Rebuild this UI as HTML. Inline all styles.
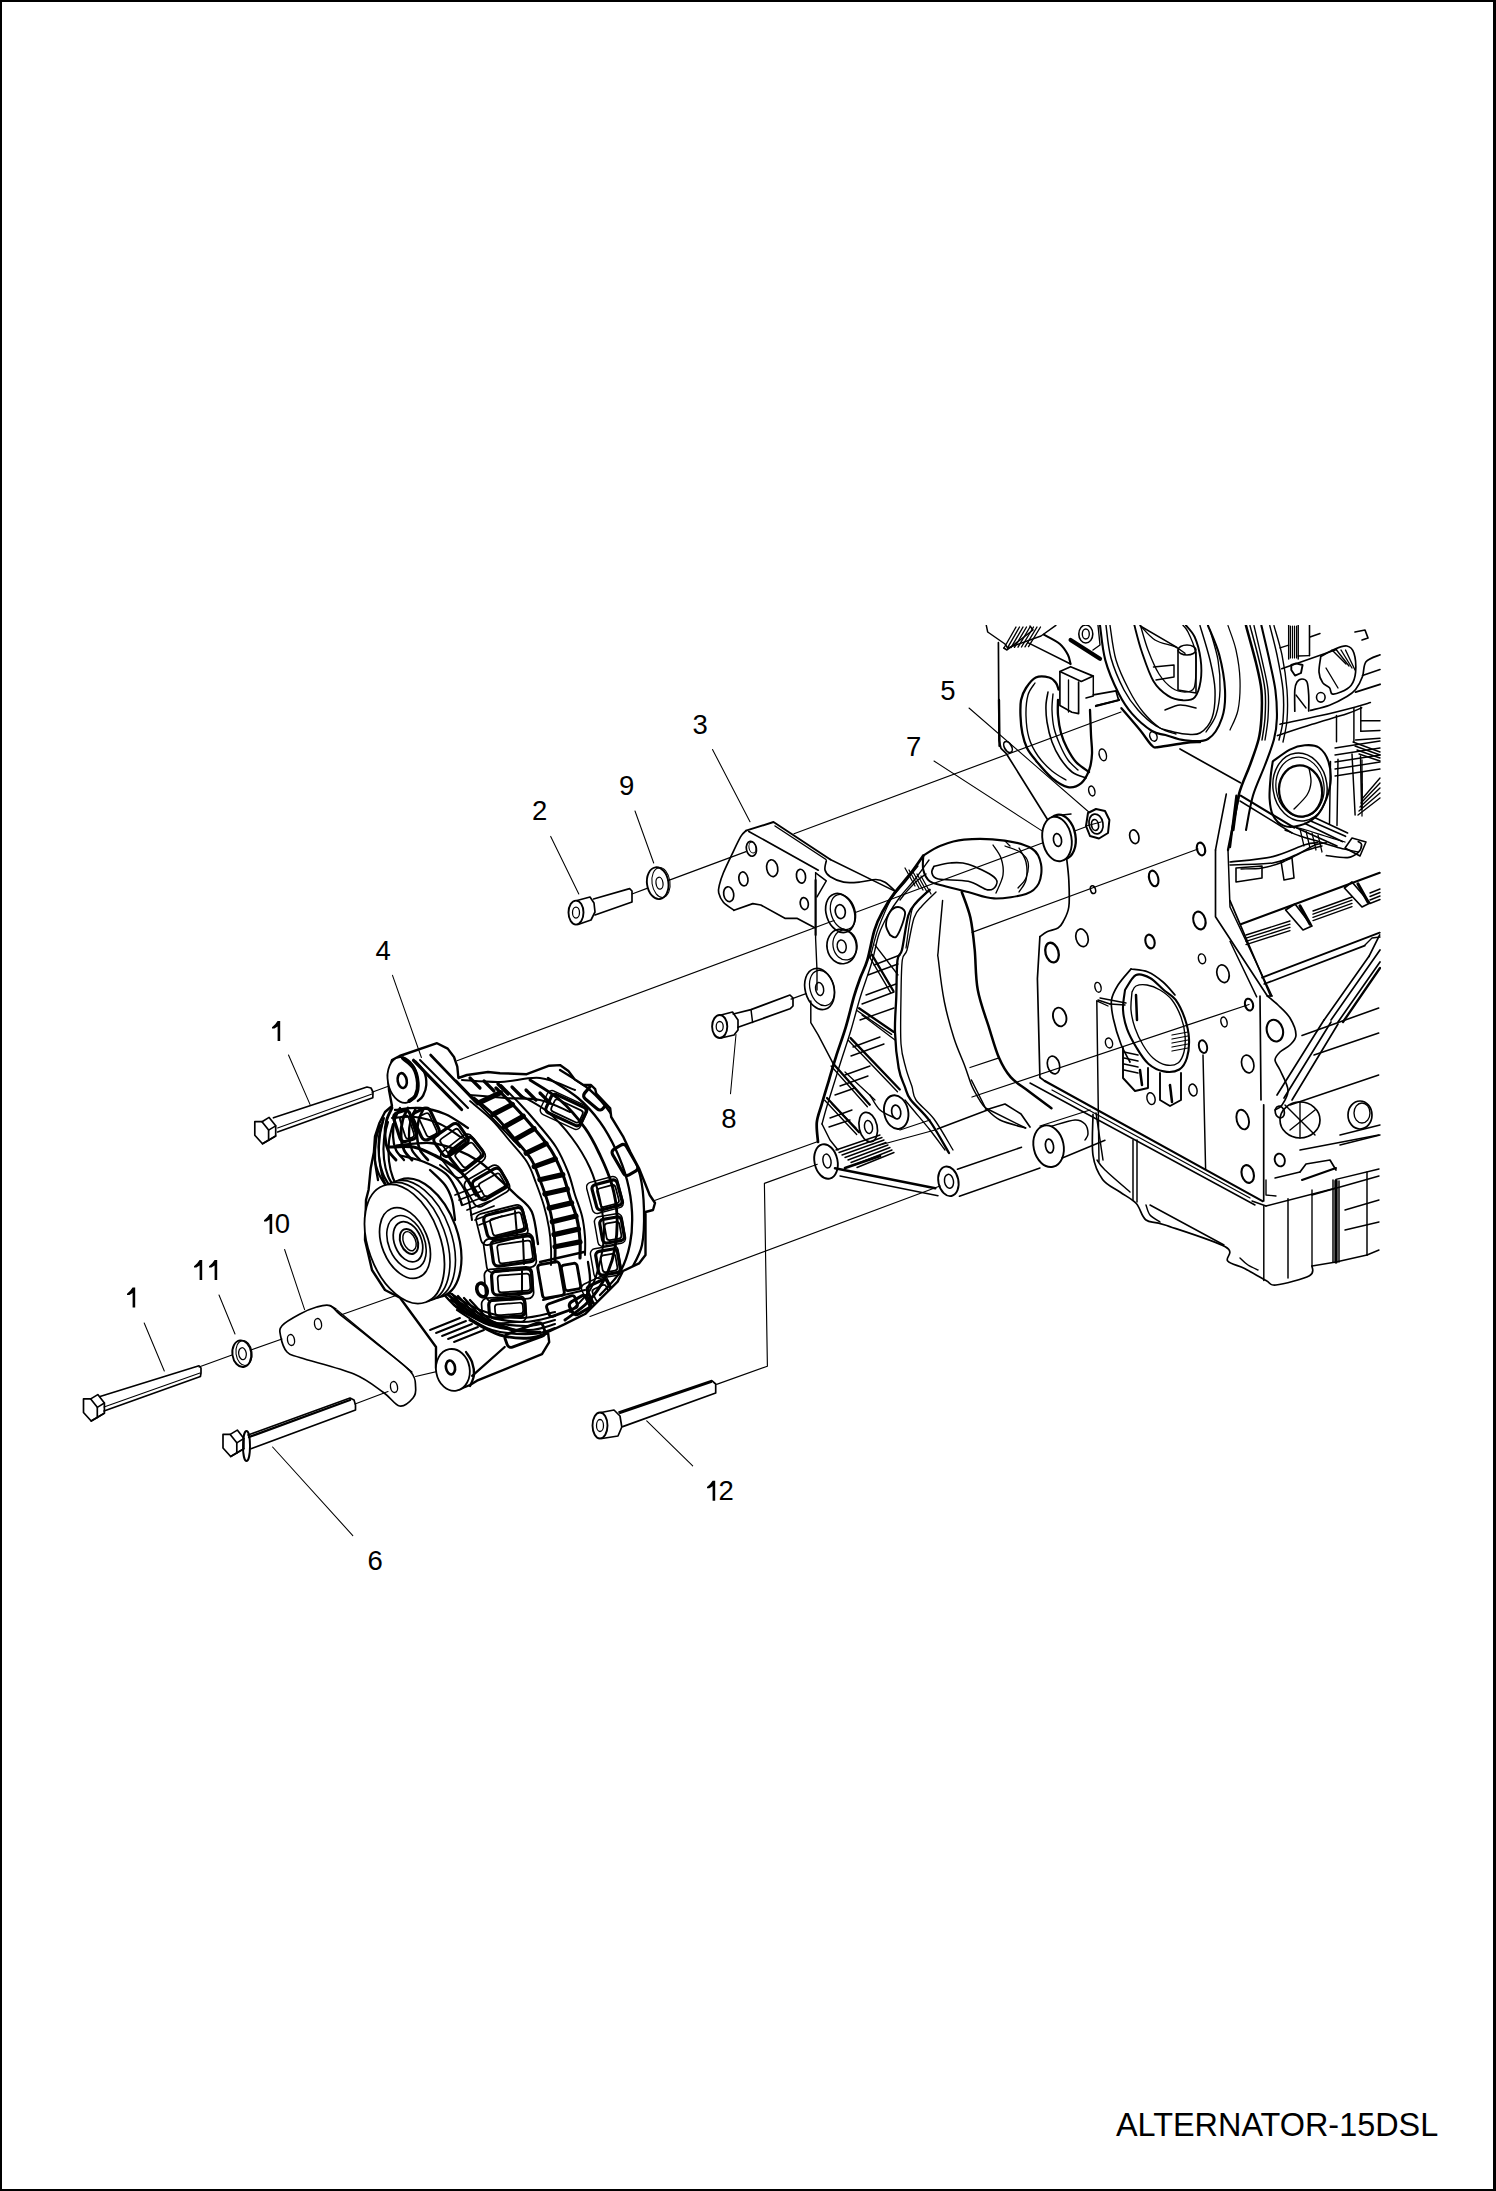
<!DOCTYPE html>
<html><head><meta charset="utf-8"><style>
html,body{margin:0;padding:0;background:#fff;}
body{width:1496px;height:2191px;position:relative;overflow:hidden;}
.b{position:absolute;background:#000;}
svg{position:absolute;left:0;top:0;}
text{font-family:"Liberation Sans",sans-serif;fill:#000;}
</style></head><body>
<div class="b" style="left:0;top:0;width:1496px;height:2px"></div>
<div class="b" style="left:0;top:0;width:2px;height:2191px"></div>
<div class="b" style="left:1493px;top:0;width:3px;height:2191px"></div>
<div class="b" style="left:0;top:2189px;width:1496px;height:2px"></div>
<svg width="1496" height="2191" viewBox="0 0 1496 2191" fill="none" stroke="#000" stroke-linecap="round" stroke-linejoin="round">
<text x="1116" y="2136" font-size="32.4" stroke="none">ALTERNATOR-15DSL</text>
<polygon stroke="none" fill="#000" points="277.6,1021.0 280.2,1021.0 280.2,1041.0 277.6,1041.0 277.6,1026.6 274.4,1028.6 272.0,1028.6 272.0,1027.3 275.2,1024.2"/>
<polygon stroke="none" fill="#000" points="132.6,1287.5 135.2,1287.5 135.2,1307.5 132.6,1307.5 132.6,1293.1 129.4,1295.1 127.0,1295.1 127.0,1293.8 130.2,1290.7"/>
<polygon stroke="none" fill="#000" points="269.6,1214.0 272.2,1214.0 272.2,1234.0 269.6,1234.0 269.6,1219.6 266.4,1221.6 264.0,1221.6 264.0,1220.3 267.2,1217.2"/>
<polygon stroke="none" fill="#000" points="199.6,1260.0 202.2,1260.0 202.2,1280.0 199.6,1280.0 199.6,1265.6 196.4,1267.6 194.0,1267.6 194.0,1266.3 197.2,1263.2"/>
<polygon stroke="none" fill="#000" points="214.6,1260.0 217.2,1260.0 217.2,1280.0 214.6,1280.0 214.6,1265.6 211.4,1267.6 209.0,1267.6 209.0,1266.3 212.2,1263.2"/>
<polygon stroke="none" fill="#000" points="712.6,1480.7 715.2,1480.7 715.2,1500.7 712.6,1500.7 712.6,1486.3 709.4,1488.3 707.0,1488.3 707.0,1487.0 710.2,1483.9"/>
<text x="274.8" y="1233.4" font-size="27.5" stroke="none">0</text>
<text x="718.6" y="1500.4" font-size="27.5" stroke="none">2</text>
<text x="532" y="820" font-size="27.5" stroke="none">2</text>
<text x="692.5" y="733.5" font-size="27.5" stroke="none">3</text>
<text x="375.6" y="959.7" font-size="27.5" stroke="none">4</text>
<text x="940.2" y="699.7" font-size="27.5" stroke="none">5</text>
<text x="367.5" y="1570" font-size="27.5" stroke="none">6</text>
<text x="906" y="756" font-size="27.5" stroke="none">7</text>
<text x="721.3" y="1128.3" font-size="27.5" stroke="none">8</text>
<text x="619" y="795" font-size="27.5" stroke="none">9</text>
<line x1="288.5" y1="1055.0" x2="310.0" y2="1104.4" stroke-width="1.05"/>
<line x1="144.2" y1="1323.0" x2="164.3" y2="1371.0" stroke-width="1.05"/>
<line x1="550.7" y1="836.4" x2="578.8" y2="894.0" stroke-width="1.05"/>
<line x1="712.5" y1="749.5" x2="750.0" y2="821.7" stroke-width="1.05"/>
<line x1="392.5" y1="975.3" x2="421.4" y2="1057.5" stroke-width="1.05"/>
<line x1="969.0" y1="708.0" x2="1088.8" y2="812.0" stroke-width="1.05"/>
<line x1="272.6" y1="1447.0" x2="352.8" y2="1535.6" stroke-width="1.05"/>
<line x1="934.0" y1="761.0" x2="1044.7" y2="832.6" stroke-width="1.05"/>
<line x1="736.0" y1="1034.5" x2="730.5" y2="1093.8" stroke-width="1.05"/>
<line x1="635.0" y1="811.0" x2="653.7" y2="863.0" stroke-width="1.05"/>
<line x1="284.6" y1="1249.5" x2="304.6" y2="1309.6" stroke-width="1.05"/>
<line x1="219.0" y1="1295.0" x2="235.0" y2="1334.0" stroke-width="1.05"/>
<line x1="646.7" y1="1420.8" x2="692.7" y2="1465.9" stroke-width="1.05"/>
<line x1="372.0" y1="1092.3" x2="389.0" y2="1086.0" stroke-width="1.16"/>
<line x1="457.0" y1="1060.7" x2="834.0" y2="920.5" stroke-width="1.16"/>
<line x1="856.0" y1="912.3" x2="1043.0" y2="842.8" stroke-width="1.16"/>
<line x1="1066.0" y1="834.3" x2="1086.0" y2="826.8" stroke-width="1.16"/>
<line x1="632.0" y1="894.0" x2="647.0" y2="888.4" stroke-width="1.16"/>
<line x1="668.0" y1="880.6" x2="746.0" y2="851.6" stroke-width="1.16"/>
<line x1="794.0" y1="833.7" x2="1121.0" y2="712.0" stroke-width="1.16"/>
<line x1="791.0" y1="999.1" x2="806.0" y2="993.6" stroke-width="1.16"/>
<line x1="972.0" y1="932.4" x2="1198.0" y2="849.0" stroke-width="1.16"/>
<line x1="653.9" y1="1200.8" x2="817.3" y2="1141.7" stroke-width="1.16"/>
<polyline points="716.6,1384.4 767.4,1366.2 764.4,1183.4 817.3,1164.3" stroke-width="1.16"/>
<line x1="590.0" y1="1316.5" x2="940.0" y2="1186.0" stroke-width="1.16"/>
<line x1="199.0" y1="1367.0" x2="232.0" y2="1355.0" stroke-width="1.16"/>
<line x1="251.0" y1="1350.0" x2="282.0" y2="1339.0" stroke-width="1.16"/>
<line x1="340.7" y1="1315.0" x2="420.0" y2="1287.0" stroke-width="1.16"/>
<line x1="355.0" y1="1404.0" x2="388.0" y2="1391.5" stroke-width="1.16"/>
<line x1="415.6" y1="1376.5" x2="450.4" y2="1368.4" stroke-width="1.16"/>
<polygon points="254.8,1121.7 262.0,1121.7 268.6,1130.1 268.6,1140.3 262.5,1143.8 254.8,1135.3" fill="#fff" stroke-width="1.68"/>
<polyline points="262.0,1121.7 269.1,1117.4 275.7,1125.8 275.7,1136.0 269.6,1139.5 262.5,1143.8" stroke-width="1.68"/>
<line x1="268.6" y1="1130.1" x2="275.7" y2="1125.8" stroke-width="1.51"/>
<line x1="268.6" y1="1140.3" x2="275.7" y2="1136.0" stroke-width="1.51"/>
<polyline points="273.4,1117.8 367.0,1087.0 371.0,1088.0 373.0,1092.0 372.8,1097.8 277.6,1132.0" stroke-width="1.68"/>
<line x1="277.6" y1="1128.0" x2="372.0" y2="1094.0" stroke-width="1.05"/>
<polygon points="83.5,1398.9 90.7,1398.9 97.3,1407.3 97.3,1417.5 91.2,1421.0 83.5,1412.5" fill="#fff" stroke-width="1.68"/>
<polyline points="90.7,1398.9 97.8,1394.6 104.4,1403.0 104.4,1413.2 98.3,1416.7 91.2,1421.0" stroke-width="1.68"/>
<line x1="97.3" y1="1407.3" x2="104.4" y2="1403.0" stroke-width="1.51"/>
<line x1="97.3" y1="1417.5" x2="104.4" y2="1413.2" stroke-width="1.51"/>
<polyline points="100.0,1396.5 199.0,1365.8 201.0,1368.0 201.0,1373.0 200.4,1376.5 104.0,1411.0" stroke-width="1.68"/>
<line x1="104.0" y1="1407.0" x2="200.0" y2="1373.0" stroke-width="1.05"/>
<polygon points="223.0,1434.4 230.2,1434.4 236.8,1442.8 236.8,1453.0 230.7,1456.5 223.0,1448.0" fill="#fff" stroke-width="1.68"/>
<polyline points="230.2,1434.4 237.3,1430.1 243.9,1438.5 243.9,1448.7 237.8,1452.2 230.7,1456.5" stroke-width="1.68"/>
<line x1="236.8" y1="1442.8" x2="243.9" y2="1438.5" stroke-width="1.51"/>
<line x1="236.8" y1="1453.0" x2="243.9" y2="1448.7" stroke-width="1.51"/>
<ellipse cx="246.5" cy="1446.0" rx="3.5" ry="15.0" stroke-width="1.89"/>
<polyline points="248.0,1435.0 350.0,1398.0 354.0,1400.0 355.5,1405.0 355.5,1410.0 251.0,1448.7" stroke-width="1.68"/>
<line x1="249.0" y1="1437.0" x2="350.0" y2="1400.0" stroke-width="2.31"/>
<ellipse cx="576.0" cy="912.6" rx="7.5" ry="12.0" stroke-width="1.89"/>
<ellipse cx="576.0" cy="912.6" rx="3.5" ry="5.5" stroke-width="1.26"/>
<polyline points="577.0,900.5 590.0,897.0 594.0,903.0 595.0,912.0 591.0,920.0 578.0,924.5" stroke-width="1.68"/>
<polyline points="593.5,899.0 629.6,888.6 632.0,891.0 632.0,902.0 595.0,915.0" stroke-width="1.68"/>
<ellipse cx="719.7" cy="1026.5" rx="7.6" ry="11.5" stroke-width="1.89"/>
<ellipse cx="719.7" cy="1026.5" rx="3.5" ry="5.0" stroke-width="1.26"/>
<polyline points="721.0,1015.0 732.5,1012.0 738.0,1020.0 738.0,1030.0 734.0,1035.0 721.0,1038.0" stroke-width="1.68"/>
<polyline points="733.3,1014.0 751.0,1009.6 790.0,995.0 793.0,998.0 793.0,1006.0 790.0,1008.8 738.0,1027.3" stroke-width="1.68"/>
<line x1="751.0" y1="1009.6" x2="752.6" y2="1022.5" stroke-width="1.47"/>
<ellipse cx="600.0" cy="1425.5" rx="7.5" ry="13.0" stroke-width="1.89"/>
<ellipse cx="600.0" cy="1425.5" rx="3.5" ry="6.0" stroke-width="1.26"/>
<polyline points="601.0,1412.5 614.0,1410.0 620.0,1416.0 621.8,1427.0 618.0,1436.0 602.0,1438.5" stroke-width="1.68"/>
<polyline points="618.9,1412.0 711.8,1380.6 715.7,1384.0 715.7,1393.0 622.7,1426.6" stroke-width="1.68"/>
<line x1="620.0" y1="1413.0" x2="711.0" y2="1382.0" stroke-width="2.31"/>
<ellipse cx="657.7" cy="883.2" rx="10.7" ry="16.0" stroke-width="1.89" transform="rotate(-8 657.7 883.2)"/>
<ellipse cx="659.5" cy="883.2" rx="3.5" ry="6.0" stroke-width="1.26" transform="rotate(-8 659.5 883.2)"/>
<ellipse cx="661.0" cy="882.5" rx="9.0" ry="15.0" stroke-width="1.05" transform="rotate(-8 661.0 882.5)"/>
<ellipse cx="241.8" cy="1353.7" rx="9.4" ry="13.4" stroke-width="1.89" transform="rotate(-8 241.8 1353.7)"/>
<ellipse cx="242.5" cy="1353.7" rx="3.8" ry="6.0" stroke-width="1.26" transform="rotate(-8 242.5 1353.7)"/>
<ellipse cx="244.0" cy="1353.0" rx="8.0" ry="12.5" stroke-width="1.05" transform="rotate(-8 244.0 1353.0)"/>
<path d="M282.0,1325.7 C285.2,1322.0 294.2,1317.1 300.0,1314.0 C305.8,1310.9 311.7,1308.4 316.7,1307.0 C321.7,1305.6 326.0,1304.3 330.0,1305.6 C334.0,1306.9 333.0,1308.8 340.7,1315.0 C348.4,1321.2 364.4,1333.7 376.0,1343.0 C387.6,1352.3 403.4,1363.7 410.0,1371.0 C416.6,1378.3 415.1,1382.5 415.6,1387.0 C416.1,1391.5 415.7,1394.8 413.0,1398.0 C410.3,1401.2 404.5,1406.9 399.6,1406.0 C394.7,1405.1 391.1,1397.8 383.5,1392.5 C375.9,1387.2 367.8,1379.8 354.0,1374.0 C340.2,1368.2 311.8,1361.5 300.6,1357.8 C289.4,1354.1 290.3,1355.6 287.0,1352.0 C283.7,1348.4 281.4,1340.4 280.6,1336.0 C279.8,1331.6 278.8,1329.4 282.0,1325.7Z" stroke-width="1.68"/>
<line x1="330.0" y1="1305.6" x2="336.0" y2="1309.0" stroke-width="1.47"/>
<line x1="337.0" y1="1310.0" x2="412.0" y2="1372.0" stroke-width="1.26"/>
<ellipse cx="318.0" cy="1324.0" rx="3.5" ry="5.5" stroke-width="1.37" transform="rotate(-10 318.0 1324.0)"/>
<ellipse cx="291.0" cy="1340.0" rx="3.5" ry="5.5" stroke-width="1.37" transform="rotate(-10 291.0 1340.0)"/>
<ellipse cx="394.0" cy="1387.0" rx="3.5" ry="5.5" stroke-width="1.37" transform="rotate(-10 394.0 1387.0)"/>
<clipPath id="engclip"><rect x="0" y="625" width="1381" height="1600"/></clipPath>
<clipPath id="altclip"><path d="M388.0,1075.0 L392.0,1060.0 L399.6,1056.0 L437.0,1043.2 L447.7,1048.6 L454.0,1057.0 L457.3,1066.7 L458.4,1078.0 L467.0,1075.0 L488.0,1072.0 L500.0,1073.2 L526.7,1074.2 L549.2,1065.7 L560.0,1065.1 L568.4,1071.0 L574.9,1079.6 L583.4,1085.0 L591.0,1085.0 L595.2,1089.2 L596.3,1093.5 L610.2,1108.4 L611.2,1117.0 L623.0,1136.3 L630.5,1152.3 L639.0,1168.3 L643.3,1179.0 L649.7,1195.0 L655.0,1203.0 L653.0,1210.0 L645.5,1212.0 L645.5,1255.0 L639.0,1263.4 L623.0,1271.0 L617.6,1281.6 L601.6,1297.6 L585.6,1313.7 L564.2,1324.4 L548.0,1332.0 L549.2,1342.2 L542.0,1354.2 L477.0,1380.7 L470.0,1385.0 L460.0,1389.0 L448.0,1388.0 L440.0,1380.0 L436.0,1368.0 L436.0,1347.0 L420.0,1325.0 L400.0,1297.7 L385.0,1290.0 L372.0,1270.0 L365.0,1240.0 L366.0,1200.0 L368.6,1189.7 L370.7,1168.3 L373.9,1152.3 L375.0,1136.3 L379.3,1123.4 L385.0,1112.0 L392.0,1106.0 L389.0,1090.0Z"/></clipPath>
<g clip-path="url(#altclip)">
<path d="M392.0,1108.0 C391.1,1110.0 387.9,1115.3 386.7,1120.0 C385.5,1124.7 384.8,1131.0 385.0,1136.0 C385.2,1141.0 386.2,1146.0 388.0,1150.0 C389.8,1154.0 394.7,1158.3 396.0,1160.0" stroke-width="2.90"/>
<path d="M400.0,1108.0 C399.1,1110.0 395.9,1115.3 394.7,1120.0 C393.5,1124.7 392.8,1131.0 393.0,1136.0 C393.2,1141.0 394.2,1146.0 396.0,1150.0 C397.8,1154.0 402.7,1158.3 404.0,1160.0" stroke-width="2.32"/>
<path d="M408.0,1108.0 C407.1,1110.0 403.9,1115.3 402.7,1120.0 C401.5,1124.7 400.8,1131.0 401.0,1136.0 C401.2,1141.0 402.2,1146.0 404.0,1150.0 C405.8,1154.0 410.7,1158.3 412.0,1160.0" stroke-width="2.90"/>
<path d="M416.0,1108.0 C415.1,1110.0 411.9,1115.3 410.7,1120.0 C409.5,1124.7 408.8,1131.0 409.0,1136.0 C409.2,1141.0 410.2,1146.0 412.0,1150.0 C413.8,1154.0 418.7,1158.3 420.0,1160.0" stroke-width="2.32"/>
<path d="M424.0,1108.0 C423.1,1110.0 419.9,1115.3 418.7,1120.0 C417.5,1124.7 416.8,1131.0 417.0,1136.0 C417.2,1141.0 418.2,1146.0 420.0,1150.0 C421.8,1154.0 426.7,1158.3 428.0,1160.0" stroke-width="2.61"/>
<path d="M380.0,1125.0 C379.3,1127.5 376.8,1134.2 376.0,1140.0 C375.2,1145.8 374.7,1153.3 375.0,1160.0 C375.3,1166.7 377.5,1176.7 378.0,1180.0" stroke-width="2.32"/>
<path d="M384.0,1118.0 C383.3,1120.8 380.8,1128.8 380.0,1135.0 C379.2,1141.2 378.7,1148.3 379.0,1155.0 C379.3,1161.7 380.8,1170.0 382.0,1175.0 C383.2,1180.0 385.3,1183.3 386.0,1185.0" stroke-width="2.03"/>
<path d="M390.0,1147.0 C393.9,1147.0 406.0,1145.6 413.5,1147.0 C421.0,1148.4 427.8,1152.0 434.9,1155.5 C442.0,1159.0 450.9,1164.4 456.3,1168.3 C461.7,1172.2 463.7,1174.5 467.0,1179.0 C470.3,1183.5 474.5,1192.3 476.0,1195.0" stroke-width="3.19"/>
<path d="M400.6,1155.5 C404.5,1156.6 416.7,1159.0 424.2,1162.0 C431.7,1165.0 440.2,1169.1 445.6,1173.7 C451.0,1178.3 453.6,1184.5 456.3,1189.7 C459.0,1194.9 461.1,1202.5 462.0,1205.0" stroke-width="2.32"/>
<path d="M397.0,1145.5 C402.5,1145.1 420.0,1142.3 430.0,1143.0 C440.0,1143.7 448.7,1146.6 457.0,1149.8 C465.3,1153.0 472.9,1157.0 480.0,1162.0 C487.1,1167.0 493.7,1174.2 499.7,1179.7 C505.7,1185.2 510.6,1189.7 516.0,1195.0 C521.4,1200.3 528.1,1203.6 531.8,1211.8 C535.5,1220.0 537.0,1238.6 538.0,1244.0" stroke-width="2.32"/>
<line x1="413.5" y1="1060.3" x2="461.6" y2="1109.5" stroke-width="3.19"/>
<line x1="420.0" y1="1060.0" x2="468.0" y2="1108.0" stroke-width="2.03"/>
<line x1="430.6" y1="1055.0" x2="477.6" y2="1104.2" stroke-width="2.61"/>
<line x1="456.3" y1="1080.6" x2="520.0" y2="1147.0" stroke-width="2.03"/>
<rect x="451.0" y="1142.0" width="30.0" height="24.0" rx="5" stroke-width="3.19" transform="rotate(-38 466.0 1154.0)"/>
<rect x="457.0" y="1146.5" width="22.0" height="17.0" rx="3" stroke-width="1.74" transform="rotate(-38 468.0 1155.0)"/>
<rect x="474.0" y="1173.0" width="32.0" height="22.0" rx="5" stroke-width="3.19" transform="rotate(-30 490.0 1184.0)"/>
<rect x="480.0" y="1177.5" width="24.0" height="15.0" rx="3" stroke-width="1.74" transform="rotate(-30 492.0 1185.0)"/>
<rect x="485.0" y="1211.0" width="40.0" height="24.0" rx="5" stroke-width="3.19" transform="rotate(-14 505.0 1223.0)"/>
<rect x="491.0" y="1215.5" width="32.0" height="17.0" rx="3" stroke-width="1.74" transform="rotate(-14 507.0 1224.0)"/>
<rect x="492.0" y="1238.0" width="42.0" height="26.0" rx="5" stroke-width="3.19" transform="rotate(-8 513.0 1251.0)"/>
<rect x="498.0" y="1242.5" width="34.0" height="19.0" rx="3" stroke-width="1.74" transform="rotate(-8 515.0 1252.0)"/>
<rect x="492.0" y="1270.0" width="40.0" height="24.0" rx="5" stroke-width="3.19" transform="rotate(-4 512.0 1282.0)"/>
<rect x="498.0" y="1274.5" width="32.0" height="17.0" rx="3" stroke-width="1.74" transform="rotate(-4 514.0 1283.0)"/>
<rect x="489.0" y="1299.0" width="36.0" height="18.0" rx="5" stroke-width="3.19" transform="rotate(-4 507.0 1308.0)"/>
<rect x="495.0" y="1303.5" width="28.0" height="11.0" rx="3" stroke-width="1.74" transform="rotate(-4 509.0 1309.0)"/>
<rect x="396.5" y="1111.0" width="17.0" height="30.0" rx="5" stroke-width="3.19" transform="rotate(-18 405.0 1126.0)"/>
<rect x="402.5" y="1115.5" width="9.0" height="23.0" rx="3" stroke-width="1.74" transform="rotate(-18 407.0 1127.0)"/>
<rect x="416.5" y="1109.0" width="19.0" height="30.0" rx="5" stroke-width="3.19" transform="rotate(-25 426.0 1124.0)"/>
<rect x="422.5" y="1113.5" width="11.0" height="23.0" rx="3" stroke-width="1.74" transform="rotate(-25 428.0 1125.0)"/>
<rect x="436.0" y="1128.0" width="30.0" height="24.0" rx="5" stroke-width="3.19" transform="rotate(-35 451.0 1140.0)"/>
<rect x="442.0" y="1132.5" width="22.0" height="17.0" rx="3" stroke-width="1.74" transform="rotate(-35 453.0 1141.0)"/>
<line x1="515.0" y1="1211.0" x2="517.0" y2="1235.0" stroke-width="2.03"/>
<line x1="523.0" y1="1239.0" x2="524.0" y2="1264.0" stroke-width="2.03"/>
<line x1="522.0" y1="1271.0" x2="522.0" y2="1294.0" stroke-width="2.03"/>
<path d="M474.0,1098.0 C477.7,1101.2 489.5,1110.5 496.0,1117.0 C502.5,1123.5 507.2,1130.0 513.0,1137.0 C518.8,1144.0 526.5,1151.8 531.0,1159.0 C535.5,1166.2 537.2,1172.7 540.0,1180.0 C542.8,1187.3 545.8,1195.5 548.0,1203.0 C550.2,1210.5 551.8,1218.0 553.0,1225.0 C554.2,1232.0 554.7,1238.8 555.0,1245.0 C555.3,1251.2 555.0,1259.2 555.0,1262.0" stroke-width="2.90"/>
<path d="M496.0,1088.0 C499.2,1091.2 509.0,1100.7 515.0,1107.0 C521.0,1113.3 526.0,1118.8 532.0,1126.0 C538.0,1133.2 545.8,1141.8 551.0,1150.0 C556.2,1158.2 559.8,1167.0 563.0,1175.0 C566.2,1183.0 567.7,1190.7 570.0,1198.0 C572.3,1205.3 575.3,1212.0 577.0,1219.0 C578.7,1226.0 579.5,1233.5 580.0,1240.0 C580.5,1246.5 580.0,1255.0 580.0,1258.0" stroke-width="3.19"/>
<path d="M470.0,1101.0 C473.7,1104.2 485.5,1113.5 492.0,1120.0 C498.5,1126.5 503.2,1133.0 509.0,1140.0 C514.8,1147.0 522.5,1154.8 527.0,1162.0 C531.5,1169.2 533.2,1175.7 536.0,1183.0 C538.8,1190.3 541.8,1198.5 544.0,1206.0 C546.2,1213.5 547.8,1221.0 549.0,1228.0 C550.2,1235.0 550.7,1241.8 551.0,1248.0 C551.3,1254.2 551.0,1262.2 551.0,1265.0" stroke-width="1.89"/>
<path d="M501.0,1085.0 C504.2,1088.2 514.0,1097.7 520.0,1104.0 C526.0,1110.3 531.0,1115.8 537.0,1123.0 C543.0,1130.2 550.8,1138.8 556.0,1147.0 C561.2,1155.2 564.8,1164.0 568.0,1172.0 C571.2,1180.0 572.7,1187.7 575.0,1195.0 C577.3,1202.3 580.3,1209.0 582.0,1216.0 C583.7,1223.0 584.5,1230.5 585.0,1237.0 C585.5,1243.5 585.0,1252.0 585.0,1255.0" stroke-width="2.03"/>
<line x1="479.3" y1="1102.6" x2="500.6" y2="1092.6" stroke-width="5.22"/>
<line x1="493.0" y1="1114.4" x2="512.4" y2="1104.4" stroke-width="5.22"/>
<line x1="504.3" y1="1126.8" x2="523.3" y2="1116.3" stroke-width="5.22"/>
<line x1="515.0" y1="1139.5" x2="534.1" y2="1128.7" stroke-width="5.22"/>
<line x1="526.2" y1="1153.2" x2="546.0" y2="1143.7" stroke-width="5.22"/>
<line x1="534.2" y1="1166.6" x2="555.3" y2="1159.0" stroke-width="5.22"/>
<line x1="539.9" y1="1179.7" x2="562.8" y2="1174.6" stroke-width="5.22"/>
<line x1="544.9" y1="1194.0" x2="567.3" y2="1189.0" stroke-width="5.22"/>
<line x1="549.2" y1="1208.1" x2="571.6" y2="1202.9" stroke-width="5.22"/>
<line x1="552.3" y1="1221.8" x2="576.0" y2="1216.0" stroke-width="5.22"/>
<line x1="554.0" y1="1234.6" x2="578.4" y2="1229.1" stroke-width="5.22"/>
<line x1="555.0" y1="1246.8" x2="580.0" y2="1241.9" stroke-width="5.22"/>
<path d="M560.0,1070.0 C565.0,1073.3 581.3,1082.5 590.0,1090.0 C598.7,1097.5 605.7,1105.8 612.0,1115.0 C618.3,1124.2 623.3,1135.0 628.0,1145.0 C632.7,1155.0 637.3,1164.2 640.0,1175.0 C642.7,1185.8 643.7,1198.3 644.0,1210.0 C644.3,1221.7 644.0,1235.3 642.0,1245.0 C640.0,1254.7 633.7,1264.2 632.0,1268.0" stroke-width="2.32"/>
<path d="M548.0,1078.0 C553.0,1081.3 569.3,1090.7 578.0,1098.0 C586.7,1105.3 593.7,1113.3 600.0,1122.0 C606.3,1130.7 611.5,1140.3 616.0,1150.0 C620.5,1159.7 624.3,1169.7 627.0,1180.0 C629.7,1190.3 631.5,1201.3 632.0,1212.0 C632.5,1222.7 632.0,1234.0 630.0,1244.0 C628.0,1254.0 625.0,1263.5 620.0,1272.0 C615.0,1280.5 603.3,1291.2 600.0,1295.0" stroke-width="2.32"/>
<path d="M530.0,1080.0 C535.0,1083.3 550.8,1092.0 560.0,1100.0 C569.2,1108.0 578.3,1118.8 585.0,1128.0 C591.7,1137.2 595.5,1145.5 600.0,1155.0 C604.5,1164.5 609.2,1175.0 612.0,1185.0 C614.8,1195.0 616.5,1204.5 617.0,1215.0 C617.5,1225.5 616.8,1237.8 615.0,1248.0 C613.2,1258.2 610.5,1267.0 606.0,1276.0 C601.5,1285.0 594.8,1294.7 588.0,1302.0 C581.2,1309.3 568.8,1317.0 565.0,1320.0" stroke-width="2.90"/>
<rect x="547.0" y="1100.0" width="38.0" height="20.0" rx="4" stroke-width="3.19" transform="rotate(25 566.0 1110.0)"/>
<rect x="585.0" y="1088.0" width="24.0" height="18.0" rx="4" stroke-width="3.19" transform="rotate(40 597.0 1097.0)"/>
<rect x="594.0" y="1182.0" width="26.0" height="26.0" rx="4" stroke-width="3.19" transform="rotate(-15 607.0 1195.0)"/>
<rect x="601.0" y="1218.0" width="22.0" height="24.0" rx="4" stroke-width="3.19" transform="rotate(-10 612.0 1230.0)"/>
<rect x="597.0" y="1250.0" width="22.0" height="24.0" rx="4" stroke-width="3.19" transform="rotate(-10 608.0 1262.0)"/>
<rect x="589.0" y="1282.0" width="22.0" height="20.0" rx="4" stroke-width="3.19" transform="rotate(-25 600.0 1292.0)"/>
<rect x="617.0" y="1145.0" width="16.0" height="30.0" rx="4" stroke-width="3.19" transform="rotate(-30 625.0 1160.0)"/>
<rect x="570.0" y="1298.0" width="20.0" height="14.0" rx="4" stroke-width="3.19" transform="rotate(-30 580.0 1305.0)"/>
<path d="M440.0,1290.0 C443.3,1293.3 451.7,1304.2 460.0,1310.0 C468.3,1315.8 485.0,1322.5 490.0,1325.0" stroke-width="2.32"/>
<path d="M446.0,1292.0 C449.3,1295.3 457.8,1306.3 466.0,1312.0 C474.2,1317.7 490.2,1323.7 495.0,1326.0" stroke-width="2.32"/>
<path d="M452.0,1294.0 C455.3,1297.3 464.0,1308.5 472.0,1314.0 C480.0,1319.5 495.3,1324.8 500.0,1327.0" stroke-width="2.32"/>
<path d="M458.0,1296.0 C461.3,1299.3 470.2,1310.7 478.0,1316.0 C485.8,1321.3 500.5,1326.0 505.0,1328.0" stroke-width="2.32"/>
<path d="M464.0,1298.0 C467.3,1301.3 476.3,1312.8 484.0,1318.0 C491.7,1323.2 505.7,1327.2 510.0,1329.0" stroke-width="2.32"/>
<path d="M470.0,1300.0 C473.3,1303.3 482.5,1315.0 490.0,1320.0 C497.5,1325.0 510.8,1328.3 515.0,1330.0" stroke-width="2.32"/>
<path d="M470.0,1320.0 C475.0,1322.5 490.0,1332.0 500.0,1335.0 C510.0,1338.0 521.7,1338.5 530.0,1338.0 C538.3,1337.5 546.7,1333.0 550.0,1332.0" stroke-width="2.90"/>
<path d="M455.0,1300.0 C459.2,1303.0 470.5,1313.0 480.0,1318.0 C489.5,1323.0 502.0,1327.7 512.0,1330.0 C522.0,1332.3 535.3,1331.7 540.0,1332.0" stroke-width="2.32"/>
<rect x="505.0" y="1328.0" width="40.0" height="14.0" rx="4" stroke-width="2.90" transform="rotate(-20 525.0 1335.0)"/>
<ellipse cx="482.0" cy="1290.0" rx="5.0" ry="7.0" stroke-width="3.62" transform="rotate(-20 482.0 1290.0)"/>
<rect x="444.0" y="1140.0" width="38.0" height="32.0" rx="6" stroke-width="1.74" transform="rotate(-38 463.0 1156.0)"/>
<rect x="467.0" y="1171.0" width="40.0" height="30.0" rx="6" stroke-width="1.74" transform="rotate(-30 487.0 1186.0)"/>
<rect x="478.0" y="1209.0" width="48.0" height="32.0" rx="6" stroke-width="1.74" transform="rotate(-14 502.0 1225.0)"/>
<rect x="485.0" y="1236.0" width="50.0" height="34.0" rx="6" stroke-width="1.74" transform="rotate(-8 510.0 1253.0)"/>
<rect x="485.0" y="1268.0" width="48.0" height="32.0" rx="6" stroke-width="1.74" transform="rotate(-4 509.0 1284.0)"/>
<rect x="482.0" y="1297.0" width="44.0" height="26.0" rx="6" stroke-width="1.74" transform="rotate(-4 504.0 1310.0)"/>
<rect x="551.5" y="1104.5" width="31.0" height="13.0" rx="3" stroke-width="1.74" transform="rotate(25 567.0 1111.0)"/>
<rect x="542.0" y="1097.0" width="44.0" height="26.0" rx="5" stroke-width="1.45" transform="rotate(25 564.0 1110.0)"/>
<rect x="598.5" y="1186.5" width="19.0" height="19.0" rx="3" stroke-width="1.74" transform="rotate(-15 608.0 1196.0)"/>
<rect x="589.0" y="1179.0" width="32.0" height="32.0" rx="5" stroke-width="1.45" transform="rotate(-15 605.0 1195.0)"/>
<rect x="605.5" y="1222.5" width="15.0" height="17.0" rx="3" stroke-width="1.74" transform="rotate(-10 613.0 1231.0)"/>
<rect x="596.0" y="1215.0" width="28.0" height="30.0" rx="5" stroke-width="1.45" transform="rotate(-10 610.0 1230.0)"/>
<rect x="601.5" y="1254.5" width="15.0" height="17.0" rx="3" stroke-width="1.74" transform="rotate(-10 609.0 1263.0)"/>
<rect x="592.0" y="1247.0" width="28.0" height="30.0" rx="5" stroke-width="1.45" transform="rotate(-10 606.0 1262.0)"/>
<rect x="593.5" y="1286.5" width="15.0" height="13.0" rx="3" stroke-width="1.74" transform="rotate(-25 601.0 1293.0)"/>
<rect x="584.0" y="1279.0" width="28.0" height="26.0" rx="5" stroke-width="1.45" transform="rotate(-25 598.0 1292.0)"/>
<line x1="430.0" y1="1330.0" x2="460.0" y2="1318.0" stroke-width="1.89"/>
<line x1="436.0" y1="1333.0" x2="466.0" y2="1321.0" stroke-width="1.89"/>
<line x1="442.0" y1="1336.0" x2="472.0" y2="1324.0" stroke-width="1.89"/>
<line x1="448.0" y1="1339.0" x2="478.0" y2="1327.0" stroke-width="1.89"/>
<line x1="454.0" y1="1342.0" x2="484.0" y2="1330.0" stroke-width="1.89"/>
<line x1="455.0" y1="1195.0" x2="478.0" y2="1186.0" stroke-width="1.74"/>
<line x1="459.0" y1="1200.0" x2="482.0" y2="1191.0" stroke-width="1.74"/>
<line x1="463.0" y1="1205.0" x2="486.0" y2="1196.0" stroke-width="1.74"/>
<line x1="467.0" y1="1210.0" x2="490.0" y2="1201.0" stroke-width="1.74"/>
<line x1="471.0" y1="1215.0" x2="494.0" y2="1206.0" stroke-width="1.74"/>
<line x1="475.0" y1="1220.0" x2="498.0" y2="1211.0" stroke-width="1.74"/>
<line x1="479.0" y1="1225.0" x2="502.0" y2="1216.0" stroke-width="1.74"/>
<line x1="470.0" y1="1078.0" x2="480.0" y2="1088.0" stroke-width="3.19"/>
<line x1="484.0" y1="1081.0" x2="494.0" y2="1091.0" stroke-width="3.19"/>
<line x1="498.0" y1="1084.0" x2="508.0" y2="1094.0" stroke-width="3.19"/>
<line x1="512.0" y1="1087.0" x2="522.0" y2="1097.0" stroke-width="3.19"/>
<line x1="526.0" y1="1090.0" x2="536.0" y2="1100.0" stroke-width="3.19"/>
<line x1="540.0" y1="1093.0" x2="550.0" y2="1103.0" stroke-width="3.19"/>
<path d="M462.0,1080.0 C468.3,1080.3 487.0,1082.3 500.0,1082.0 C513.0,1081.7 527.5,1076.7 540.0,1078.0 C552.5,1079.3 569.2,1088.0 575.0,1090.0" stroke-width="2.03"/>
<path d="M470.0,1095.0 C475.8,1095.5 493.3,1097.2 505.0,1098.0 C516.7,1098.8 529.2,1097.7 540.0,1100.0 C550.8,1102.3 565.0,1110.0 570.0,1112.0" stroke-width="2.03"/>
<path d="M590.0,1082.0 C594.7,1086.3 610.3,1098.3 618.0,1108.0 C625.7,1117.7 630.7,1128.0 636.0,1140.0 C641.3,1152.0 647.7,1173.3 650.0,1180.0" stroke-width="1.74"/>
<path d="M520.0,1095.0 C524.7,1097.8 539.3,1104.8 548.0,1112.0 C556.7,1119.2 565.0,1128.7 572.0,1138.0 C579.0,1147.3 585.3,1157.7 590.0,1168.0 C594.7,1178.3 597.7,1189.3 600.0,1200.0 C602.3,1210.7 604.0,1221.7 604.0,1232.0 C604.0,1242.3 602.3,1252.3 600.0,1262.0 C597.7,1271.7 595.0,1281.7 590.0,1290.0 C585.0,1298.3 573.3,1308.3 570.0,1312.0" stroke-width="2.03"/>
<path d="M372.0,1200.0 C372.5,1202.5 373.7,1210.0 375.0,1215.0 C376.3,1220.0 379.2,1227.5 380.0,1230.0" stroke-width="2.03"/>
<path d="M430.0,1170.0 C432.5,1172.5 441.3,1180.0 445.0,1185.0 C448.7,1190.0 450.3,1194.2 452.0,1200.0 C453.7,1205.8 454.5,1216.7 455.0,1220.0" stroke-width="2.32"/>
<path d="M440.0,1165.0 C443.0,1167.5 453.3,1174.5 458.0,1180.0 C462.7,1185.5 465.7,1191.3 468.0,1198.0 C470.3,1204.7 471.3,1216.3 472.0,1220.0" stroke-width="2.03"/>
<path d="M378.0,1118.0 C377.3,1120.8 374.7,1128.8 374.0,1135.0 C373.3,1141.2 373.3,1148.8 374.0,1155.0 C374.7,1161.2 376.0,1166.8 378.0,1172.0 C380.0,1177.2 384.7,1183.7 386.0,1186.0" stroke-width="2.17"/>
<path d="M383.0,1120.0 C382.3,1122.8 379.7,1130.8 379.0,1137.0 C378.3,1143.2 378.3,1150.8 379.0,1157.0 C379.7,1163.2 381.0,1168.8 383.0,1174.0 C385.0,1179.2 389.7,1185.7 391.0,1188.0" stroke-width="2.17"/>
<path d="M388.0,1122.0 C387.3,1124.8 384.7,1132.8 384.0,1139.0 C383.3,1145.2 383.3,1152.8 384.0,1159.0 C384.7,1165.2 386.0,1170.8 388.0,1176.0 C390.0,1181.2 394.7,1187.7 396.0,1190.0" stroke-width="2.17"/>
<path d="M393.0,1124.0 C392.3,1126.8 389.7,1134.8 389.0,1141.0 C388.3,1147.2 388.3,1154.8 389.0,1161.0 C389.7,1167.2 391.0,1172.8 393.0,1178.0 C395.0,1183.2 399.7,1189.7 401.0,1192.0" stroke-width="2.17"/>
<path d="M395.0,1110.0 C399.2,1109.7 411.7,1107.3 420.0,1108.0 C428.3,1108.7 437.0,1110.7 445.0,1114.0 C453.0,1117.3 464.2,1125.7 468.0,1128.0" stroke-width="2.32"/>
<path d="M392.0,1118.0 C395.8,1117.8 407.0,1116.0 415.0,1117.0 C423.0,1118.0 432.2,1120.5 440.0,1124.0 C447.8,1127.5 458.3,1135.7 462.0,1138.0" stroke-width="2.03"/>
<path d="M445.0,1290.0 C450.8,1293.3 467.5,1305.3 480.0,1310.0 C492.5,1314.7 507.5,1317.7 520.0,1318.0 C532.5,1318.3 549.2,1313.0 555.0,1312.0" stroke-width="2.17"/>
<path d="M448.0,1295.0 C453.8,1298.3 470.5,1310.5 483.0,1315.0 C495.5,1319.5 511.0,1321.8 523.0,1322.0 C535.0,1322.2 549.7,1317.0 555.0,1316.0" stroke-width="2.17"/>
<path d="M451.0,1300.0 C456.8,1303.3 473.5,1315.7 486.0,1320.0 C498.5,1324.3 514.5,1326.0 526.0,1326.0 C537.5,1326.0 550.2,1321.0 555.0,1320.0" stroke-width="2.17"/>
<path d="M454.0,1305.0 C459.8,1308.3 476.5,1320.8 489.0,1325.0 C501.5,1329.2 518.0,1330.2 529.0,1330.0 C540.0,1329.8 550.7,1325.0 555.0,1324.0" stroke-width="2.17"/>
<path d="M457.0,1310.0 C462.8,1313.3 479.5,1326.0 492.0,1330.0 C504.5,1334.0 521.5,1334.3 532.0,1334.0 C542.5,1333.7 551.2,1329.0 555.0,1328.0" stroke-width="2.17"/>
<rect x="540.0" y="1263.0" width="22.0" height="34.0" rx="3" stroke-width="2.90" transform="rotate(-10 551.0 1280.0)"/>
<rect x="563.0" y="1264.0" width="16.0" height="26.0" rx="3" stroke-width="2.90" transform="rotate(-10 571.0 1277.0)"/>
<rect x="547.0" y="1299.5" width="30.0" height="13.0" rx="3" stroke-width="2.90" transform="rotate(-20 562.0 1306.0)"/>
<line x1="540.0" y1="1262.0" x2="584.0" y2="1252.0" stroke-width="2.32"/>
<line x1="543.0" y1="1300.0" x2="585.0" y2="1290.0" stroke-width="2.03"/>
<path d="M588.0,1262.0 C588.3,1265.0 590.3,1274.0 590.0,1280.0 C589.7,1286.0 586.7,1295.0 586.0,1298.0" stroke-width="2.32"/>
</g>
<path d="M388.0,1075.0 L392.0,1060.0 L399.6,1056.0 L437.0,1043.2 L447.7,1048.6 L454.0,1057.0 L457.3,1066.7 L458.4,1078.0 L467.0,1075.0 L488.0,1072.0 L500.0,1073.2 L526.7,1074.2 L549.2,1065.7 L560.0,1065.1 L568.4,1071.0 L574.9,1079.6 L583.4,1085.0 L591.0,1085.0 L595.2,1089.2 L596.3,1093.5 L610.2,1108.4 L611.2,1117.0 L623.0,1136.3 L630.5,1152.3 L639.0,1168.3 L643.3,1179.0 L649.7,1195.0 L655.0,1203.0 L653.0,1210.0 L645.5,1212.0 L645.5,1255.0 L639.0,1263.4 L623.0,1271.0 L617.6,1281.6 L601.6,1297.6 L585.6,1313.7 L564.2,1324.4 L548.0,1332.0 L549.2,1342.2 L542.0,1354.2 L477.0,1380.7 L470.0,1385.0 L460.0,1389.0 L448.0,1388.0 L440.0,1380.0 L436.0,1368.0 L436.0,1347.0 L420.0,1325.0 L400.0,1297.7 L385.0,1290.0 L372.0,1270.0 L365.0,1240.0 L366.0,1200.0 L368.6,1189.7 L370.7,1168.3 L373.9,1152.3 L375.0,1136.3 L379.3,1123.4 L385.0,1112.0 L392.0,1106.0 L389.0,1090.0Z" stroke-width="2.4"/>
<ellipse cx="421.5" cy="1238.0" rx="36.0" ry="62.0" fill="#fff" stroke-width="2.2" transform="rotate(-20 421.5 1238.0)"/>
<ellipse cx="415.5" cy="1240.0" rx="36.0" ry="62.0" fill="#fff" stroke-width="1.6" transform="rotate(-20 415.5 1240.0)"/>
<ellipse cx="410.0" cy="1242.0" rx="36.0" ry="62.0" fill="#fff" stroke-width="1.6" transform="rotate(-20 410.0 1242.0)"/>
<ellipse cx="404.5" cy="1244.0" rx="36.0" ry="62.0" fill="#fff" stroke-width="1.8" transform="rotate(-20 404.5 1244.0)"/>
<ellipse cx="405.0" cy="1243.0" rx="23.0" ry="37.0" stroke-width="1.74" transform="rotate(-22 405.0 1243.0)"/>
<ellipse cx="406.5" cy="1242.4" rx="18.0" ry="28.0" stroke-width="1.59" transform="rotate(-22 406.5 1242.4)"/>
<ellipse cx="408.0" cy="1241.8" rx="13.5" ry="21.0" stroke-width="1.74" transform="rotate(-22 408.0 1241.8)"/>
<ellipse cx="409.0" cy="1241.4" rx="8.5" ry="13.0" stroke-width="2.03" transform="rotate(-22 409.0 1241.4)"/>
<ellipse cx="409.5" cy="1241.2" rx="6.0" ry="10.0" stroke-width="1.45" transform="rotate(-22 409.5 1241.2)"/>
<ellipse cx="402.8" cy="1080.0" rx="15.0" ry="23.0" fill="#fff" stroke-width="1.8" transform="rotate(-10 402.8 1080.0)"/>
<ellipse cx="402.2" cy="1080.6" rx="4.5" ry="7.5" stroke-width="2.61" transform="rotate(-10 402.2 1080.6)"/>
<path d="M402.8,1058.2 C404.6,1059.8 411.0,1063.7 413.5,1067.8 C416.0,1071.9 417.4,1078.2 417.8,1082.8 C418.2,1087.4 417.0,1092.6 415.6,1095.6 C414.2,1098.6 410.3,1100.1 409.2,1101.0" stroke-width="3.77"/>
<path d="M415.6,1061.4 C417.0,1063.2 422.4,1068.1 424.2,1072.0 C426.0,1075.9 426.5,1081.1 426.3,1085.0 C426.1,1088.9 424.5,1092.9 423.1,1095.6 C421.7,1098.3 418.7,1100.1 417.8,1101.0" stroke-width="2.32"/>
<ellipse cx="452.9" cy="1369.9" rx="16.8" ry="21.0" fill="#fff" stroke-width="1.8" transform="rotate(-10 452.9 1369.9)"/>
<ellipse cx="450.5" cy="1367.5" rx="4.5" ry="7.0" stroke-width="2.61" transform="rotate(-10 450.5 1367.5)"/>
<line x1="472.2" y1="1375.9" x2="504.7" y2="1347.0" stroke-width="2.32"/>
<path d="M466.0,1352.0 C467.0,1353.7 470.7,1358.2 472.0,1362.0 C473.3,1365.8 474.3,1371.0 474.0,1375.0 C473.7,1379.0 470.7,1384.2 470.0,1386.0" stroke-width="2.32"/>
<g clip-path="url(#engclip)">
<path d="M746.0,830.7 C745.1,831.7 743.1,832.6 740.7,836.7 C738.3,840.8 734.3,849.5 731.4,855.5 C728.5,861.5 725.4,867.9 723.4,872.8 C721.4,877.7 720.2,881.5 719.4,884.9 C718.6,888.2 718.0,890.0 718.7,892.9 C719.4,895.8 720.9,899.3 723.4,902.2 C725.9,905.1 732.2,908.9 734.0,910.3" stroke-width="1.68"/>
<polyline points="734.0,910.3 752.8,903.6 760.8,905.0 784.9,918.3 796.9,918.3 814.3,927.6" stroke-width="1.68"/>
<polyline points="746.0,830.7 773.5,822.0 830.3,859.5" stroke-width="1.89"/>
<line x1="775.0" y1="826.0" x2="826.0" y2="859.5" stroke-width="1.47"/>
<line x1="748.8" y1="831.4" x2="818.3" y2="870.2" stroke-width="1.68"/>
<path d="M826.3,860.8 C826.1,862.3 824.3,867.3 825.0,870.0 C825.7,872.7 827.2,874.8 830.3,876.8 C833.4,878.8 838.8,881.3 843.7,882.2 C848.7,883.1 854.6,882.5 860.0,882.0 C865.4,881.5 871.6,879.5 875.8,879.5 C880.0,879.5 881.7,880.2 885.0,882.2 C888.3,884.2 894.0,890.0 895.8,891.6" stroke-width="1.68"/>
<line x1="830.3" y1="859.5" x2="895.8" y2="891.6" stroke-width="1.47"/>
<polyline points="815.6,872.8 815.6,938.3 817.0,970.4 817.0,990.0" stroke-width="1.37"/>
<line x1="815.6" y1="880.0" x2="815.6" y2="935.0" stroke-width="2.10"/>
<polyline points="815.6,872.8 826.3,880.9 817.0,896.9" stroke-width="1.47"/>
<ellipse cx="751.4" cy="848.8" rx="5.0" ry="7.5" stroke-width="1.68" transform="rotate(-10 751.4 848.8)"/>
<ellipse cx="772.2" cy="868.2" rx="5.5" ry="8.5" stroke-width="1.68" transform="rotate(-10 772.2 868.2)"/>
<ellipse cx="743.4" cy="878.9" rx="4.5" ry="7.0" stroke-width="1.68" transform="rotate(-10 743.4 878.9)"/>
<ellipse cx="728.7" cy="894.2" rx="5.0" ry="7.5" stroke-width="1.68" transform="rotate(-10 728.7 894.2)"/>
<ellipse cx="801.0" cy="876.2" rx="4.5" ry="7.0" stroke-width="1.68" transform="rotate(-10 801.0 876.2)"/>
<ellipse cx="804.3" cy="903.6" rx="4.0" ry="6.0" stroke-width="1.68" transform="rotate(-10 804.3 903.6)"/>
<ellipse cx="752.5" cy="847.5" rx="3.5" ry="5.5" stroke-width="1.05" transform="rotate(-10 752.5 847.5)"/>
<ellipse cx="840.3" cy="913.0" rx="14.0" ry="20.0" stroke-width="1.68" transform="rotate(-18 840.3 913.0)"/>
<ellipse cx="843.0" cy="912.0" rx="12.0" ry="18.0" stroke-width="1.26" transform="rotate(-18 843.0 912.0)"/>
<ellipse cx="840.3" cy="911.6" rx="5.0" ry="7.0" stroke-width="1.68" transform="rotate(-10 840.3 911.6)"/>
<ellipse cx="841.7" cy="946.4" rx="14.7" ry="17.4" stroke-width="1.68" transform="rotate(-10 841.7 946.4)"/>
<ellipse cx="845.0" cy="945.0" rx="12.0" ry="15.0" stroke-width="1.26" transform="rotate(-10 845.0 945.0)"/>
<ellipse cx="841.7" cy="946.4" rx="4.5" ry="6.5" stroke-width="1.47" transform="rotate(-10 841.7 946.4)"/>
<ellipse cx="819.6" cy="989.0" rx="14.4" ry="21.0" stroke-width="1.68" transform="rotate(-15 819.6 989.0)"/>
<ellipse cx="822.0" cy="988.0" rx="12.0" ry="18.0" stroke-width="1.26" transform="rotate(-15 822.0 988.0)"/>
<ellipse cx="819.6" cy="989.0" rx="4.0" ry="6.5" stroke-width="1.47" transform="rotate(-10 819.6 989.0)"/>
<polyline points="810.8,1000.9 810.8,1022.6 818.0,1034.6 833.7,1064.7" stroke-width="1.47"/>
<path d="M923.3,855.6 C921.1,858.7 914.8,868.0 910.0,874.2 C905.2,880.4 899.1,886.7 894.5,892.9 C889.9,899.1 885.9,905.4 882.5,911.6 C879.1,917.8 876.9,922.2 874.4,930.3 C871.9,938.4 869.8,952.0 867.4,960.0 C865.0,968.0 862.4,972.0 860.2,978.0 C858.0,984.0 856.5,987.9 854.1,996.1 C851.7,1004.3 848.7,1017.4 845.7,1027.4 C842.7,1037.4 838.9,1047.5 836.1,1056.3 C833.3,1065.1 831.3,1072.3 828.9,1080.3 C826.5,1088.3 823.7,1097.4 821.7,1104.4 C819.7,1111.4 817.4,1116.1 816.8,1122.4 C816.2,1128.7 817.8,1138.7 818.0,1142.0" stroke-width="2.73"/>
<path d="M929.0,860.0 C926.8,863.0 920.8,871.8 916.0,878.0 C911.2,884.2 904.7,890.8 900.0,897.0 C895.3,903.2 891.5,908.8 888.0,915.0 C884.5,921.2 881.6,926.5 879.0,934.0 C876.4,941.5 874.7,952.3 872.5,960.0 C870.3,967.7 868.1,973.7 866.0,980.0 C863.9,986.3 862.5,989.7 860.0,998.0 C857.5,1006.3 854.0,1020.0 851.0,1030.0 C848.0,1040.0 844.8,1049.3 842.0,1058.0 C839.2,1066.7 837.0,1074.0 834.5,1082.0 C832.0,1090.0 829.1,1099.0 827.0,1106.0 C824.9,1113.0 822.8,1121.0 822.0,1124.0" stroke-width="1.37"/>
<path d="M929.7,889.8 C927.4,892.0 919.6,898.7 916.0,903.0 C912.4,907.3 910.6,907.7 908.3,915.5 C906.0,923.3 903.8,942.3 902.0,949.7 C900.2,957.1 898.5,952.3 897.5,960.0 C896.5,967.7 896.7,984.1 896.3,996.1 C895.9,1008.1 894.6,1020.2 895.0,1032.2 C895.4,1044.2 897.1,1059.3 898.7,1068.3 C900.3,1077.3 902.7,1081.1 904.7,1086.3 C906.7,1091.5 906.3,1093.7 910.5,1099.5 C914.7,1105.3 923.3,1112.0 929.7,1120.9 C936.1,1129.8 945.8,1147.7 949.0,1153.0" stroke-width="2.31"/>
<path d="M936.0,892.0 C933.7,894.3 925.7,901.7 922.0,906.0 C918.3,910.3 916.5,910.7 914.0,918.0 C911.5,925.3 909.0,943.0 907.0,950.0 C905.0,957.0 903.3,952.3 902.3,960.0 C901.3,967.7 901.2,982.0 901.0,996.0 C900.8,1010.0 900.2,1032.0 901.0,1044.0 C901.8,1056.0 904.1,1061.2 905.9,1068.3 C907.7,1075.3 910.2,1081.0 911.9,1086.3 C913.6,1091.6 912.3,1094.5 916.0,1100.0 C919.7,1105.5 927.8,1110.7 934.0,1119.0 C940.2,1127.3 949.8,1144.8 953.0,1150.0" stroke-width="1.37"/>
<line x1="872.0" y1="954.8" x2="893.4" y2="991.0" stroke-width="2.31"/>
<line x1="869.2" y1="956.4" x2="890.6" y2="992.6" stroke-width="1.37"/>
<line x1="859.1" y1="1008.2" x2="893.4" y2="1031.8" stroke-width="2.31"/>
<line x1="857.3" y1="1010.8" x2="891.6" y2="1034.4" stroke-width="1.37"/>
<line x1="850.6" y1="1038.1" x2="899.8" y2="1089.5" stroke-width="2.31"/>
<line x1="848.3" y1="1040.3" x2="897.5" y2="1091.7" stroke-width="1.37"/>
<line x1="833.5" y1="1063.9" x2="869.8" y2="1104.7" stroke-width="2.31"/>
<line x1="831.1" y1="1066.0" x2="867.4" y2="1106.8" stroke-width="1.37"/>
<line x1="827.0" y1="1098.0" x2="859.0" y2="1132.3" stroke-width="2.31"/>
<line x1="824.7" y1="1100.2" x2="856.7" y2="1134.5" stroke-width="1.37"/>
<line x1="874.0" y1="965.0" x2="900.0" y2="955.0" stroke-width="1.37"/>
<line x1="868.0" y1="975.0" x2="898.0" y2="964.0" stroke-width="1.37"/>
<line x1="866.0" y1="995.0" x2="896.0" y2="984.0" stroke-width="1.37"/>
<line x1="862.0" y1="1004.0" x2="894.0" y2="992.0" stroke-width="1.37"/>
<line x1="860.0" y1="1020.0" x2="894.0" y2="1008.0" stroke-width="1.37"/>
<line x1="853.0" y1="1047.0" x2="880.0" y2="1037.0" stroke-width="1.37"/>
<line x1="851.0" y1="1056.0" x2="884.0" y2="1044.0" stroke-width="1.37"/>
<line x1="845.0" y1="1075.0" x2="870.0" y2="1066.0" stroke-width="1.37"/>
<line x1="840.0" y1="1086.0" x2="868.0" y2="1076.0" stroke-width="1.37"/>
<line x1="835.0" y1="1095.0" x2="855.0" y2="1088.0" stroke-width="1.37"/>
<line x1="830.0" y1="1118.0" x2="852.0" y2="1110.0" stroke-width="1.37"/>
<line x1="829.0" y1="1127.0" x2="850.0" y2="1120.0" stroke-width="1.37"/>
<path d="M890.0,935.0 C889.3,933.3 886.0,928.8 886.0,925.0 C886.0,921.2 888.0,915.0 890.0,912.0 C892.0,909.0 895.5,907.0 898.0,907.0 C900.5,907.0 904.3,909.0 905.0,912.0 C905.7,915.0 903.5,920.8 902.0,925.0 C900.5,929.2 898.0,935.3 896.0,937.0 C894.0,938.7 891.0,935.3 890.0,935.0" stroke-width="1.89"/>
<line x1="905.0" y1="868.0" x2="915.0" y2="886.0" stroke-width="1.26"/>
<line x1="909.0" y1="870.0" x2="919.0" y2="888.0" stroke-width="1.26"/>
<line x1="913.0" y1="872.0" x2="923.0" y2="890.0" stroke-width="1.26"/>
<line x1="917.0" y1="874.0" x2="927.0" y2="892.0" stroke-width="1.26"/>
<line x1="921.0" y1="876.0" x2="931.0" y2="894.0" stroke-width="1.26"/>
<path d="M900.0,900.0 C901.3,898.3 905.0,893.3 908.0,890.0 C911.0,886.7 915.0,882.7 918.0,880.0 C921.0,877.3 924.7,875.0 926.0,874.0" stroke-width="1.37"/>
<path d="M923.3,855.6 C926.1,854.0 933.2,848.7 940.0,846.0 C946.8,843.3 953.2,840.5 964.0,839.6 C974.8,838.7 993.2,839.0 1004.6,840.6 C1016.0,842.2 1026.3,845.1 1032.4,849.0 C1038.5,852.9 1039.9,858.3 1041.0,864.0 C1042.1,869.7 1041.3,878.4 1038.8,883.4 C1036.3,888.4 1033.5,891.5 1026.0,894.0 C1018.5,896.5 1003.7,898.7 994.0,898.4 C984.3,898.1 976.6,894.1 968.0,892.0 C959.4,889.9 949.0,887.4 942.6,885.6 C936.2,883.8 932.9,883.9 929.7,881.3 C926.5,878.7 924.4,874.3 923.3,870.0 C922.2,865.7 923.3,858.0 923.3,855.6" stroke-width="2.10"/>
<path d="M934.0,866.3 C936.7,865.8 944.3,863.4 950.0,863.0 C955.7,862.6 960.9,861.9 968.2,864.2 C975.5,866.5 989.4,873.4 994.0,877.0 C998.6,880.6 997.1,883.5 996.0,885.6 C994.9,887.7 992.1,890.5 987.5,889.8 C982.9,889.1 976.4,883.1 968.2,881.3 C960.0,879.5 944.3,880.4 938.3,879.0 C932.2,877.6 932.6,874.8 931.9,872.7 C931.2,870.6 933.6,867.4 934.0,866.3" stroke-width="1.68"/>
<line x1="1004.6" y1="840.6" x2="1010.0" y2="846.0" stroke-width="1.26"/>
<path d="M993.0,845.0 C994.3,847.2 999.3,853.0 1001.0,858.0 C1002.7,863.0 1003.8,869.2 1003.0,875.0 C1002.2,880.8 997.2,890.0 996.0,893.0" stroke-width="1.37"/>
<path d="M1019.0,848.0 C1020.2,850.3 1024.8,856.7 1026.0,862.0 C1027.2,867.3 1027.2,875.0 1026.0,880.0 C1024.8,885.0 1020.2,890.0 1019.0,892.0" stroke-width="1.37"/>
<path d="M1005.0,846.0 C1007.5,847.0 1016.2,849.3 1020.0,852.0 C1023.8,854.7 1027.0,857.7 1028.0,862.0 C1029.0,866.3 1027.7,873.7 1026.0,878.0 C1024.3,882.3 1019.3,886.3 1018.0,888.0" stroke-width="1.26"/>
<path d="M961.8,892.0 C963.2,896.3 968.2,908.0 970.4,917.6 C972.5,927.2 973.5,937.6 974.7,949.7 C975.9,961.8 975.3,976.8 977.8,990.0 C980.2,1003.2 985.9,1017.5 989.4,1028.8 C992.9,1040.1 995.5,1049.7 999.0,1057.8 C1002.5,1065.9 1005.9,1071.7 1010.7,1077.2 C1015.5,1082.7 1021.2,1085.6 1028.0,1090.8 C1034.8,1096.0 1047.5,1105.3 1051.4,1108.2" stroke-width="2.52"/>
<path d="M942.6,900.5 C941.9,908.7 939.0,939.8 938.3,949.7 C937.6,959.6 937.4,951.3 938.4,960.0 C939.4,968.7 941.8,989.0 944.4,1002.0 C947.0,1015.0 950.6,1027.5 954.0,1038.2 C957.4,1048.9 961.8,1057.9 964.8,1065.9 C967.8,1073.9 969.5,1080.5 972.0,1086.3 C974.5,1092.1 977.8,1097.2 980.0,1100.8 C982.2,1104.4 982.2,1104.8 985.5,1108.0 C988.8,1111.2 993.3,1116.7 1000.0,1120.0 C1006.7,1123.3 1021.3,1126.7 1025.6,1128.0" stroke-width="1.47"/>
<ellipse cx="826.0" cy="1161.5" rx="11.5" ry="17.5" stroke-width="1.89" transform="rotate(-12 826.0 1161.5)"/>
<ellipse cx="827.0" cy="1161.0" rx="4.0" ry="7.0" stroke-width="1.47" transform="rotate(-10 827.0 1161.0)"/>
<ellipse cx="948.4" cy="1181.3" rx="10.0" ry="15.0" stroke-width="1.89" transform="rotate(-12 948.4 1181.3)"/>
<ellipse cx="949.0" cy="1181.3" rx="4.5" ry="7.0" stroke-width="1.47" transform="rotate(-10 949.0 1181.3)"/>
<ellipse cx="1048.6" cy="1146.2" rx="15.0" ry="21.0" stroke-width="1.89" transform="rotate(-12 1048.6 1146.2)"/>
<ellipse cx="1049.5" cy="1146.0" rx="4.0" ry="7.0" stroke-width="1.68" transform="rotate(-10 1049.5 1146.0)"/>
<ellipse cx="868.2" cy="1127.1" rx="9.0" ry="15.0" stroke-width="1.68" transform="rotate(-12 868.2 1127.1)"/>
<ellipse cx="868.5" cy="1127.0" rx="4.0" ry="6.5" stroke-width="1.47" transform="rotate(-10 868.5 1127.0)"/>
<ellipse cx="896.2" cy="1112.1" rx="12.0" ry="17.0" stroke-width="1.89" transform="rotate(-12 896.2 1112.1)"/>
<ellipse cx="896.2" cy="1112.0" rx="4.5" ry="7.0" stroke-width="1.68" transform="rotate(-10 896.2 1112.0)"/>
<line x1="835.0" y1="1168.2" x2="935.3" y2="1188.3" stroke-width="2.52"/>
<line x1="840.0" y1="1176.0" x2="938.0" y2="1195.7" stroke-width="1.47"/>
<polyline points="822.0,1124.0 830.0,1140.0 838.0,1150.0" stroke-width="1.47"/>
<line x1="937.3" y1="1129.0" x2="987.5" y2="1110.0" stroke-width="1.47"/>
<line x1="957.4" y1="1169.2" x2="1021.6" y2="1147.2" stroke-width="1.47"/>
<line x1="959.4" y1="1196.3" x2="1040.0" y2="1168.0" stroke-width="1.47"/>
<line x1="1061.7" y1="1158.2" x2="1105.0" y2="1140.2" stroke-width="1.47"/>
<path d="M1052.0,1126.0 C1055.8,1125.0 1069.5,1120.3 1075.0,1120.0 C1080.5,1119.7 1082.8,1121.7 1085.0,1124.0 C1087.2,1126.3 1088.0,1131.3 1088.0,1134.0 C1088.0,1136.7 1085.5,1139.0 1085.0,1140.0" stroke-width="1.47"/>
<line x1="1040.0" y1="1126.0" x2="1090.0" y2="1110.0" stroke-width="1.26"/>
<polyline points="971.4,1080.0 985.5,1108.0 1025.6,1128.0" stroke-width="1.47"/>
<polyline points="985.5,1110.0 1005.0,1104.0 1021.0,1114.0 1030.0,1127.0" stroke-width="1.68"/>
<line x1="900.0" y1="1130.0" x2="930.0" y2="1120.0" stroke-width="1.26"/>
<line x1="880.0" y1="1145.0" x2="935.0" y2="1130.0" stroke-width="1.26"/>
<line x1="836.0" y1="1150.0" x2="880.0" y2="1135.0" stroke-width="1.37"/>
<line x1="839.0" y1="1152.5" x2="882.0" y2="1137.5" stroke-width="1.37"/>
<line x1="842.0" y1="1155.0" x2="884.0" y2="1140.0" stroke-width="1.37"/>
<line x1="845.0" y1="1157.5" x2="886.0" y2="1142.5" stroke-width="1.37"/>
<line x1="848.0" y1="1160.0" x2="888.0" y2="1145.0" stroke-width="1.37"/>
<line x1="851.0" y1="1162.5" x2="890.0" y2="1147.5" stroke-width="1.37"/>
<line x1="854.0" y1="1165.0" x2="892.0" y2="1150.0" stroke-width="1.37"/>
<line x1="857.0" y1="1167.5" x2="894.0" y2="1152.5" stroke-width="1.37"/>
<line x1="845.0" y1="1168.0" x2="880.0" y2="1156.0" stroke-width="2.73"/>
<path d="M918.0,866.0 C916.0,868.5 910.3,875.7 906.0,881.0 C901.7,886.3 895.7,892.5 892.0,898.0 C888.3,903.5 886.5,908.3 884.0,914.0 C881.5,919.7 879.3,924.7 877.0,932.0 C874.7,939.3 871.2,953.7 870.0,958.0" stroke-width="1.26"/>
<path d="M926.0,893.0 C924.0,895.0 916.7,900.5 914.0,905.0 C911.3,909.5 911.3,912.8 910.0,920.0 C908.7,927.2 906.7,943.3 906.0,948.0" stroke-width="1.26"/>
<line x1="875.0" y1="945.0" x2="898.0" y2="975.0" stroke-width="1.26"/>
<line x1="862.0" y1="1015.0" x2="895.0" y2="1040.0" stroke-width="1.26"/>
<line x1="845.0" y1="1072.0" x2="875.0" y2="1100.0" stroke-width="1.26"/>
<line x1="832.0" y1="1104.0" x2="856.0" y2="1128.0" stroke-width="1.26"/>
<path d="M870.0,1095.0 C871.7,1097.5 875.8,1106.2 880.0,1110.0 C884.2,1113.8 892.5,1116.7 895.0,1118.0" stroke-width="1.47"/>
<path d="M905.0,1100.0 C906.7,1102.0 910.8,1107.0 915.0,1112.0 C919.2,1117.0 925.0,1123.7 930.0,1130.0 C935.0,1136.3 942.5,1146.7 945.0,1150.0" stroke-width="1.37"/>
<polyline points="986.3,625.3 987.7,632.0 1005.0,644.0 1007.7,648.0" stroke-width="1.47"/>
<polyline points="998.4,642.7 999.0,740.3 1001.0,748.3 1006.4,753.7 1047.8,820.0" stroke-width="1.68"/>
<line x1="999.0" y1="700.0" x2="999.5" y2="746.0" stroke-width="2.31"/>
<ellipse cx="1008.0" cy="747.0" rx="3.5" ry="6.0" stroke-width="1.68" transform="rotate(-30 1008.0 747.0)"/>
<line x1="1004.0" y1="648.0" x2="1016.0" y2="627.0" stroke-width="1.37"/>
<line x1="1007.5" y1="647.8" x2="1019.5" y2="627.0" stroke-width="1.37"/>
<line x1="1011.0" y1="647.6" x2="1023.0" y2="627.0" stroke-width="1.37"/>
<line x1="1014.5" y1="647.4" x2="1026.5" y2="627.0" stroke-width="1.37"/>
<line x1="1018.0" y1="647.2" x2="1030.0" y2="627.0" stroke-width="1.37"/>
<line x1="1021.5" y1="647.0" x2="1033.5" y2="627.0" stroke-width="1.37"/>
<line x1="1025.0" y1="646.8" x2="1037.0" y2="627.0" stroke-width="1.37"/>
<line x1="1028.5" y1="646.6" x2="1040.5" y2="627.0" stroke-width="1.37"/>
<polyline points="1003.7,648.0 1007.0,650.0 1033.0,630.0 1030.0,626.0" stroke-width="1.47"/>
<polyline points="1007.7,648.0 1041.0,636.0 1055.9,625.3" stroke-width="1.47"/>
<line x1="1027.8" y1="642.7" x2="1070.6" y2="664.0" stroke-width="1.47"/>
<path d="M1043.8,634.7 C1046.5,636.2 1055.9,640.6 1059.9,644.0 C1063.9,647.4 1066.1,651.4 1067.9,654.8 C1069.7,658.1 1070.1,662.5 1070.6,664.1" stroke-width="2.10"/>
<path d="M1058.5,689.5 C1058.1,688.4 1057.5,684.8 1055.9,682.8 C1054.4,680.8 1052.6,678.4 1049.2,677.5 C1045.8,676.6 1039.7,675.8 1035.8,677.5 C1031.9,679.2 1028.5,684.2 1026.0,688.0 C1023.5,691.8 1021.9,695.5 1021.0,700.2 C1020.1,704.9 1020.3,710.4 1020.5,716.0 C1020.7,721.6 1021.3,728.3 1022.4,733.6 C1023.5,738.9 1024.8,743.5 1027.0,748.0 C1029.2,752.5 1031.7,755.4 1035.8,760.4 C1039.9,765.4 1046.4,773.3 1051.8,777.8 C1057.2,782.2 1063.0,786.2 1067.9,787.1 C1072.8,788.0 1077.7,786.0 1081.3,783.1 C1084.9,780.2 1087.5,774.6 1089.3,769.7 C1091.1,764.8 1091.7,759.5 1092.0,753.7 C1092.3,747.9 1091.3,742.3 1091.0,735.0 C1090.7,727.7 1090.2,714.2 1090.0,710.0" stroke-width="2.31"/>
<path d="M1035.0,683.0 C1033.8,685.0 1029.5,689.5 1028.0,695.0 C1026.5,700.5 1025.8,708.8 1026.0,716.0 C1026.2,723.2 1027.0,731.3 1029.0,738.0 C1031.0,744.7 1034.2,750.5 1038.0,756.0 C1041.8,761.5 1047.3,767.0 1052.0,771.0 C1056.7,775.0 1063.7,778.5 1066.0,780.0" stroke-width="1.37"/>
<path d="M1048.0,692.0 C1047.7,694.2 1046.2,700.0 1046.0,705.0 C1045.8,710.0 1046.0,715.8 1047.0,722.0 C1048.0,728.2 1049.8,736.0 1052.0,742.0 C1054.2,748.0 1056.7,753.0 1060.0,758.0 C1063.3,763.0 1067.7,768.7 1072.0,772.0 C1076.3,775.3 1083.7,777.0 1086.0,778.0" stroke-width="1.58"/>
<path d="M1053.0,694.0 C1052.8,696.7 1051.8,704.3 1052.0,710.0 C1052.2,715.7 1052.7,722.2 1054.0,728.0 C1055.3,733.8 1057.7,739.7 1060.0,745.0 C1062.3,750.3 1065.0,755.8 1068.0,760.0 C1071.0,764.2 1076.3,768.3 1078.0,770.0" stroke-width="1.37"/>
<path d="M1058.0,700.0 C1058.0,702.5 1057.5,709.5 1058.0,715.0 C1058.5,720.5 1059.5,727.5 1061.0,733.0 C1062.5,738.5 1064.5,743.2 1067.0,748.0 C1069.5,752.8 1072.3,758.0 1076.0,762.0 C1079.7,766.0 1086.8,770.3 1089.0,772.0" stroke-width="2.31"/>
<polyline points="1059.9,671.5 1070.6,666.8 1093.3,676.1 1081.3,681.5 1059.9,671.5" stroke-width="1.68"/>
<polyline points="1059.9,671.5 1059.9,705.6 1071.9,712.2 1078.6,713.6 1078.6,682.2" stroke-width="1.68"/>
<polyline points="1093.3,676.1 1093.3,696.0 1086.0,698.0" stroke-width="1.47"/>
<line x1="1068.5" y1="680.0" x2="1068.5" y2="712.0" stroke-width="1.37"/>
<polyline points="1093.3,694.9 1116.0,690.9 1118.7,700.2 1096.0,705.6" stroke-width="1.68"/>
<line x1="1096.0" y1="706.0" x2="1119.0" y2="700.0" stroke-width="2.31"/>
<ellipse cx="1085.8" cy="634.0" rx="7.0" ry="9.0" stroke-width="1.58"/>
<ellipse cx="1085.8" cy="634.0" rx="3.5" ry="5.0" stroke-width="1.37"/>
<line x1="1070.6" y1="640.0" x2="1100.0" y2="658.8" stroke-width="4.20"/>
<polyline points="1098.0,625.3 1100.0,645.0 1093.0,650.0" stroke-width="1.37"/>
<path d="M1100.0,625.3 C1100.9,631.1 1102.2,648.7 1105.3,660.1 C1108.4,671.5 1114.2,684.6 1118.7,693.5 C1123.2,702.4 1126.5,707.4 1132.0,713.6 C1137.5,719.9 1146.4,727.4 1152.0,731.0 C1157.6,734.6 1160.0,733.5 1165.5,735.0 C1171.0,736.5 1177.9,739.6 1185.0,740.3 C1192.1,741.0 1201.8,742.7 1208.0,739.0 C1214.2,735.3 1219.2,726.2 1222.0,718.0 C1224.8,709.8 1225.5,700.5 1225.0,690.0 C1224.5,679.5 1222.1,665.7 1219.3,655.0 C1216.5,644.3 1209.9,630.5 1208.0,625.6" stroke-width="2.10"/>
<path d="M1106.0,625.3 C1106.8,630.8 1108.0,647.2 1111.0,658.0 C1114.0,668.8 1119.5,681.3 1124.0,690.0 C1128.5,698.7 1132.7,704.0 1138.0,710.0 C1143.3,716.0 1150.7,722.5 1156.0,726.0 C1161.3,729.5 1165.2,729.7 1170.0,731.0 C1174.8,732.3 1180.0,733.7 1185.0,734.0 C1190.0,734.3 1195.5,735.7 1200.0,733.0 C1204.5,730.3 1209.5,725.2 1212.0,718.0 C1214.5,710.8 1215.3,699.7 1215.0,690.0 C1214.7,680.3 1212.5,670.7 1210.0,660.0 C1207.5,649.3 1201.7,631.3 1200.0,625.6" stroke-width="1.47"/>
<path d="M1134.4,625.3 C1135.6,629.7 1138.6,642.5 1141.8,651.8 C1145.0,661.1 1149.1,673.9 1153.5,681.2 C1157.9,688.6 1163.3,692.7 1168.2,695.9 C1173.1,699.1 1178.6,700.0 1183.0,700.3 C1187.4,700.5 1191.8,700.6 1194.7,697.4 C1197.6,694.2 1199.6,687.6 1200.6,681.2 C1201.6,674.8 1201.6,666.5 1200.6,659.1 C1199.6,651.7 1197.2,642.6 1194.7,637.0 C1192.2,631.4 1187.4,627.2 1185.9,625.3" stroke-width="1.89"/>
<path d="M1140.4,625.3 C1141.7,629.4 1144.9,641.9 1148.0,650.0 C1151.1,658.1 1155.0,667.7 1159.0,674.0 C1163.0,680.3 1167.7,685.0 1172.0,688.0 C1176.3,691.0 1181.3,692.0 1185.0,692.0 C1188.7,692.0 1192.2,691.7 1194.0,688.0 C1195.8,684.3 1195.8,676.3 1196.0,670.0 C1196.2,663.7 1196.3,656.3 1195.0,650.0 C1193.7,643.7 1190.0,636.1 1188.0,632.0 C1186.0,627.9 1183.8,626.4 1183.0,625.3" stroke-width="1.37"/>
<path d="M1140.0,625.3 C1142.5,627.8 1149.2,636.4 1155.0,640.0 C1160.8,643.6 1169.8,644.5 1174.8,646.7 C1179.8,648.9 1183.3,652.3 1185.0,653.4" stroke-width="1.37"/>
<path d="M1121.4,708.2 C1124.5,711.8 1134.9,723.8 1140.0,730.0 C1145.1,736.2 1148.9,742.9 1152.0,745.7 C1155.1,748.5 1153.3,747.5 1158.8,747.0 C1164.3,746.5 1178.1,743.8 1185.0,743.0 C1191.9,742.2 1197.5,742.2 1200.0,742.0" stroke-width="2.31"/>
<ellipse cx="1153.4" cy="736.3" rx="3.5" ry="5.0" stroke-width="1.47" transform="rotate(-20 1153.4 736.3)"/>
<polyline points="1178.0,650.0 1178.0,690.0 1196.0,693.0 1196.0,652.0" stroke-width="1.58"/>
<ellipse cx="1187.0" cy="650.0" rx="9.0" ry="5.0" stroke-width="1.58"/>
<line x1="1140.3" y1="626.0" x2="1177.0" y2="647.4" stroke-width="1.47"/>
<polyline points="1153.5,667.0 1174.0,665.0 1174.0,677.0 1156.0,680.0" stroke-width="1.47"/>
<path d="M1165.0,710.0 C1167.5,709.2 1174.8,705.3 1180.0,705.0 C1185.2,704.7 1193.3,707.5 1196.0,708.0" stroke-width="1.47"/>
<path d="M1246.0,625.6 C1247.6,631.7 1253.2,651.2 1255.8,662.0 C1258.4,672.8 1260.5,680.8 1261.4,690.2 C1262.3,699.6 1261.9,710.1 1261.4,718.3 C1260.9,726.5 1260.5,731.5 1258.6,739.3 C1256.7,747.1 1253.3,755.9 1250.0,765.0 C1246.7,774.1 1241.8,783.2 1239.0,794.0 C1236.2,804.8 1234.2,824.0 1233.3,830.0" stroke-width="2.52"/>
<path d="M1261.4,625.6 C1262.8,631.7 1267.5,651.2 1269.8,662.0 C1272.1,672.8 1274.2,680.8 1275.4,690.2 C1276.6,699.6 1277.1,710.1 1276.9,718.3 C1276.7,726.5 1276.0,731.5 1274.0,739.3 C1272.0,747.1 1268.5,755.6 1265.0,765.0 C1261.5,774.4 1256.2,784.7 1253.0,795.5 C1249.8,806.3 1247.2,824.2 1246.0,830.0" stroke-width="2.10"/>
<path d="M1269.8,625.6 C1271.0,630.5 1274.8,644.3 1277.0,655.0 C1279.2,665.7 1282.0,679.2 1283.0,690.0 C1284.0,700.8 1283.7,711.7 1283.0,720.0 C1282.3,728.3 1279.7,736.7 1279.0,740.0" stroke-width="1.47"/>
<path d="M1254.0,625.6 C1255.3,631.3 1259.7,649.3 1262.0,660.0 C1264.3,670.7 1267.0,680.3 1268.0,690.0 C1269.0,699.7 1268.5,709.7 1268.0,718.0 C1267.5,726.3 1265.5,736.3 1265.0,740.0" stroke-width="1.37"/>
<line x1="1180.0" y1="749.0" x2="1240.4" y2="782.8" stroke-width="1.68"/>
<polyline points="1288.7,625.6 1288.7,659.1" stroke-width="1.47"/>
<polyline points="1298.2,625.6 1298.2,659.1" stroke-width="1.47"/>
<line x1="1290.5" y1="626.0" x2="1290.5" y2="658.0" stroke-width="1.16"/>
<line x1="1292.5" y1="626.0" x2="1292.5" y2="658.0" stroke-width="1.16"/>
<line x1="1294.5" y1="626.0" x2="1294.5" y2="658.0" stroke-width="1.16"/>
<line x1="1296.5" y1="626.0" x2="1296.5" y2="658.0" stroke-width="1.16"/>
<line x1="1309.5" y1="625.2" x2="1309.5" y2="655.6" stroke-width="1.58"/>
<line x1="1310.0" y1="637.0" x2="1320.0" y2="633.5" stroke-width="1.47"/>
<line x1="1280.0" y1="647.8" x2="1288.7" y2="645.2" stroke-width="1.37"/>
<line x1="1298.0" y1="656.0" x2="1309.5" y2="655.6" stroke-width="1.37"/>
<line x1="1281.7" y1="668.7" x2="1336.5" y2="649.5" stroke-width="1.58"/>
<path d="M1320.8,656.5 C1323.2,655.2 1330.7,650.8 1335.0,649.0 C1339.3,647.2 1343.8,645.3 1346.9,646.0 C1350.1,646.7 1352.5,648.6 1353.9,653.0 C1355.4,657.4 1356.0,666.7 1355.6,672.1 C1355.1,677.5 1353.7,681.9 1351.2,685.2 C1348.7,688.5 1344.0,690.7 1340.8,692.1 C1337.6,693.5 1334.0,694.6 1332.1,693.9 C1330.2,693.2 1331.1,689.7 1329.5,687.8 C1327.9,685.9 1324.3,685.2 1322.6,682.6 C1320.8,680.0 1319.3,676.5 1319.0,672.1 C1318.7,667.8 1320.5,659.1 1320.8,656.5" stroke-width="1.68"/>
<line x1="1332.0" y1="650.0" x2="1346.0" y2="664.0" stroke-width="1.37"/>
<line x1="1336.5" y1="650.0" x2="1349.0" y2="666.0" stroke-width="1.37"/>
<line x1="1341.0" y1="650.0" x2="1352.0" y2="668.0" stroke-width="1.37"/>
<line x1="1345.5" y1="650.0" x2="1355.0" y2="670.0" stroke-width="1.37"/>
<line x1="1326.0" y1="668.0" x2="1338.0" y2="688.0" stroke-width="1.37"/>
<ellipse cx="1320.8" cy="697.3" rx="4.3" ry="4.8" stroke-width="1.58"/>
<polygon points="1291.3,665.0 1296.0,663.4 1302.6,665.0 1301.0,673.0 1295.0,675.6 1291.3,670.0" stroke-width="1.89"/>
<path d="M1294.8,711.2 C1294.8,707.7 1294.4,694.9 1294.8,690.0 C1295.2,685.1 1295.8,683.8 1297.0,682.0 C1298.2,680.2 1300.3,679.0 1302.0,679.0 C1303.7,679.0 1305.9,679.3 1307.0,682.0 C1308.1,684.7 1308.4,690.2 1308.7,695.0 C1309.0,699.8 1308.7,708.3 1308.7,711.0" stroke-width="1.68"/>
<line x1="1296.0" y1="695.0" x2="1306.0" y2="708.0" stroke-width="1.37"/>
<path d="M1310.4,710.4 C1313.6,709.5 1323.4,707.5 1329.5,705.2 C1335.6,702.9 1342.6,699.1 1346.9,696.5 C1351.2,693.9 1353.0,692.8 1355.6,689.5 C1358.2,686.2 1360.8,681.1 1362.5,676.5 C1364.2,671.9 1363.1,665.3 1366.0,661.7 C1368.9,658.1 1377.7,655.9 1380.0,654.8" stroke-width="1.68"/>
<line x1="1362.5" y1="675.6" x2="1380.0" y2="669.5" stroke-width="1.58"/>
<line x1="1355.6" y1="692.1" x2="1380.0" y2="684.3" stroke-width="1.89"/>
<polyline points="1355.0,632.0 1365.0,630.0 1368.0,638.0 1362.0,640.0" stroke-width="1.68"/>
<path d="M1280.0,724.3 C1286.8,722.8 1308.2,718.5 1320.8,715.6 C1333.4,712.7 1347.3,709.1 1355.6,706.9 C1363.9,704.7 1367.9,703.3 1370.4,702.6" stroke-width="1.58"/>
<path d="M1277.4,735.6 C1283.2,733.7 1300.5,727.9 1312.1,724.3 C1323.7,720.7 1338.6,716.5 1346.9,713.8 C1355.2,711.0 1359.2,708.8 1361.7,707.8" stroke-width="1.58"/>
<line x1="1336.5" y1="715.6" x2="1336.5" y2="741.7" stroke-width="1.47"/>
<line x1="1353.9" y1="708.6" x2="1353.9" y2="741.7" stroke-width="1.47"/>
<line x1="1360.8" y1="706.9" x2="1360.8" y2="731.2" stroke-width="1.47"/>
<line x1="1360.8" y1="720.8" x2="1380.0" y2="720.8" stroke-width="1.47"/>
<line x1="1360.8" y1="731.2" x2="1380.0" y2="730.4" stroke-width="1.47"/>
<line x1="1355.6" y1="740.0" x2="1380.0" y2="738.2" stroke-width="1.47"/>
<line x1="1353.0" y1="742.0" x2="1380.0" y2="752.0" stroke-width="1.37"/>
<line x1="1355.0" y1="746.0" x2="1380.0" y2="755.0" stroke-width="1.37"/>
<line x1="1357.0" y1="750.0" x2="1380.0" y2="758.0" stroke-width="1.37"/>
<line x1="1359.0" y1="754.0" x2="1380.0" y2="761.0" stroke-width="1.37"/>
<path d="M1272.8,761.4 C1275.7,759.4 1284.6,752.3 1289.9,749.6 C1295.2,746.9 1300.1,745.6 1304.9,745.3 C1309.7,744.9 1314.9,744.8 1318.8,747.5 C1322.7,750.2 1326.5,755.5 1328.4,761.4 C1330.4,767.3 1331.2,775.7 1330.5,782.8 C1329.8,789.9 1326.6,798.5 1324.1,804.2 C1321.6,809.9 1319.7,813.4 1315.6,817.0 C1311.5,820.6 1304.8,824.2 1299.5,825.6 C1294.2,827.0 1288.0,827.4 1283.5,825.6 C1279.0,823.8 1275.1,819.4 1272.8,814.9 C1270.5,810.4 1270.0,805.0 1269.6,798.8 C1269.2,792.5 1270.1,783.6 1270.6,777.4 C1271.1,771.2 1272.4,764.1 1272.8,761.4" stroke-width="2.10"/>
<ellipse cx="1300.0" cy="787.0" rx="27.0" ry="34.0" stroke-width="1.47" transform="rotate(-8 1300.0 787.0)"/>
<ellipse cx="1300.6" cy="791.0" rx="21.5" ry="25.6" stroke-width="2.31" transform="rotate(-8 1300.6 791.0)"/>
<path d="M1309.0,768.0 C1309.3,770.3 1311.3,777.5 1311.0,782.0 C1310.7,786.5 1309.8,790.5 1307.0,795.0 C1304.2,799.5 1296.2,806.7 1294.0,809.0" stroke-width="1.37"/>
<line x1="1330.5" y1="761.4" x2="1329.5" y2="823.4" stroke-width="1.47"/>
<line x1="1338.0" y1="759.3" x2="1337.0" y2="825.6" stroke-width="1.47"/>
<line x1="1352.0" y1="753.9" x2="1355.1" y2="814.9" stroke-width="1.47"/>
<line x1="1360.5" y1="756.0" x2="1361.6" y2="809.5" stroke-width="1.47"/>
<line x1="1296.3" y1="827.7" x2="1337.0" y2="845.9" stroke-width="1.68"/>
<line x1="1304.9" y1="823.4" x2="1342.3" y2="841.6" stroke-width="1.68"/>
<line x1="1311.3" y1="821.3" x2="1345.5" y2="836.3" stroke-width="1.68"/>
<line x1="1315.6" y1="818.0" x2="1347.6" y2="833.0" stroke-width="1.68"/>
<path d="M1326.3,855.5 C1329.8,855.9 1342.3,858.1 1347.6,857.6 C1352.9,857.1 1356.0,854.4 1358.3,852.3 C1360.6,850.2 1361.6,846.6 1361.6,844.8 C1361.6,843.0 1358.8,842.1 1358.3,841.6" stroke-width="1.68"/>
<path d="M1230.0,862.0 C1237.1,861.1 1260.3,859.5 1272.8,856.6 C1285.3,853.7 1297.4,847.1 1304.9,844.8 C1312.4,842.5 1315.6,843.1 1317.7,842.7" stroke-width="1.68"/>
<path d="M1230.0,865.0 C1237.1,864.7 1262.1,864.6 1272.8,863.0 C1283.5,861.4 1287.1,858.5 1294.2,855.5 C1301.3,852.5 1310.2,846.9 1315.6,844.8 C1320.9,842.7 1324.5,843.1 1326.3,842.7" stroke-width="1.47"/>
<path d="M1241.0,869.0 C1244.5,868.8 1255.0,869.2 1262.0,868.0 C1269.0,866.8 1275.8,864.8 1283.0,862.0 C1290.2,859.2 1298.5,853.7 1305.0,851.0 C1311.5,848.3 1319.2,846.8 1322.0,846.0" stroke-width="1.37"/>
<polygon points="1236.0,868.0 1262.0,866.0 1262.0,878.0 1236.0,882.0" stroke-width="1.58"/>
<polygon points="1281.0,861.0 1292.0,858.0 1294.0,878.0 1284.0,880.0" stroke-width="1.58"/>
<line x1="1240.7" y1="795.6" x2="1272.8" y2="814.9" stroke-width="2.10"/>
<line x1="1272.8" y1="814.9" x2="1294.2" y2="827.7" stroke-width="2.10"/>
<line x1="1240.0" y1="801.0" x2="1292.0" y2="833.0" stroke-width="1.47"/>
<line x1="1236.4" y1="795.6" x2="1230.0" y2="847.0" stroke-width="2.31"/>
<line x1="1358.0" y1="815.0" x2="1380.0" y2="798.0" stroke-width="1.37"/>
<line x1="1359.0" y1="811.0" x2="1380.0" y2="793.0" stroke-width="1.37"/>
<line x1="1360.0" y1="807.0" x2="1380.0" y2="788.0" stroke-width="1.37"/>
<line x1="1361.0" y1="803.0" x2="1380.0" y2="783.0" stroke-width="1.37"/>
<line x1="1362.0" y1="799.0" x2="1380.0" y2="778.0" stroke-width="1.37"/>
<path d="M1250.0,625.6 C1251.5,631.3 1256.5,649.3 1259.0,660.0 C1261.5,670.7 1264.0,680.3 1265.0,690.0 C1266.0,699.7 1265.5,709.7 1265.0,718.0 C1264.5,726.3 1262.5,736.3 1262.0,740.0" stroke-width="1.47"/>
<path d="M1274.0,625.6 C1275.3,630.5 1279.8,644.3 1282.0,655.0 C1284.2,665.7 1286.2,679.2 1287.0,690.0 C1287.8,700.8 1287.7,711.3 1287.0,720.0 C1286.3,728.7 1283.7,738.3 1283.0,742.0" stroke-width="1.37"/>
<path d="M1228.0,625.6 C1229.3,629.7 1234.0,640.9 1236.0,650.0 C1238.0,659.1 1239.7,670.0 1240.0,680.0 C1240.3,690.0 1239.7,701.7 1238.0,710.0 C1236.3,718.3 1231.3,726.7 1230.0,730.0" stroke-width="1.26"/>
<ellipse cx="1300.0" cy="787.0" rx="24.0" ry="30.0" stroke-width="1.26" transform="rotate(-8 1300.0 787.0)"/>
<line x1="1335.0" y1="748.0" x2="1380.0" y2="741.0" stroke-width="1.37"/>
<line x1="1335.0" y1="755.0" x2="1380.0" y2="748.0" stroke-width="1.37"/>
<line x1="1335.0" y1="762.0" x2="1380.0" y2="755.0" stroke-width="1.37"/>
<line x1="1335.0" y1="769.0" x2="1380.0" y2="762.0" stroke-width="1.37"/>
<line x1="1335.0" y1="776.0" x2="1380.0" y2="769.0" stroke-width="1.37"/>
<line x1="1362.0" y1="760.0" x2="1362.0" y2="800.0" stroke-width="1.26"/>
<line x1="1362.0" y1="772.0" x2="1362.0" y2="808.0" stroke-width="1.26"/>
<line x1="1362.0" y1="784.0" x2="1362.0" y2="816.0" stroke-width="1.26"/>
<path d="M1285.0,830.0 C1287.5,831.0 1294.2,834.0 1300.0,836.0 C1305.8,838.0 1313.3,840.0 1320.0,842.0 C1326.7,844.0 1333.7,846.3 1340.0,848.0 C1346.3,849.7 1355.0,851.3 1358.0,852.0" stroke-width="1.47"/>
<path d="M1290.0,826.0 C1292.7,826.7 1300.2,828.3 1306.0,830.0 C1311.8,831.7 1318.5,834.0 1325.0,836.0 C1331.5,838.0 1341.7,841.0 1345.0,842.0" stroke-width="1.26"/>
<polygon points="1345.0,848.0 1352.0,838.0 1366.0,842.0 1360.0,856.0" stroke-width="1.58"/>
<line x1="1300.0" y1="829.0" x2="1304.0" y2="846.0" stroke-width="1.26"/>
<line x1="1306.0" y1="831.0" x2="1310.0" y2="848.0" stroke-width="1.26"/>
<line x1="1312.0" y1="833.0" x2="1316.0" y2="850.0" stroke-width="1.26"/>
<line x1="1318.0" y1="835.0" x2="1322.0" y2="852.0" stroke-width="1.26"/>
<path d="M1110.0,625.3 C1111.0,631.1 1112.8,649.2 1116.0,660.0 C1119.2,670.8 1124.5,681.3 1129.0,690.0 C1133.5,698.7 1137.8,705.7 1143.0,712.0 C1148.2,718.3 1154.5,724.3 1160.0,728.0 C1165.5,731.7 1173.3,733.0 1176.0,734.0" stroke-width="1.37"/>
<path d="M1210.0,630.0 C1211.3,635.0 1216.3,650.0 1218.0,660.0 C1219.7,670.0 1220.3,680.8 1220.0,690.0 C1219.7,699.2 1218.3,708.0 1216.0,715.0 C1213.7,722.0 1207.7,729.2 1206.0,732.0" stroke-width="1.37"/>
<path d="M1066.6,858.0 C1067.0,861.7 1068.4,871.8 1068.8,880.0 C1069.2,888.2 1069.8,900.0 1068.8,907.0 C1067.8,914.0 1064.8,918.5 1063.0,922.0 C1061.2,925.5 1060.7,926.4 1058.0,928.0 C1055.3,929.6 1050.0,930.3 1047.0,931.7 C1044.0,933.1 1041.1,935.8 1039.9,936.6" stroke-width="1.68"/>
<polyline points="1039.9,936.6 1037.4,978.6 1039.9,1077.5 1044.8,1081.0" stroke-width="1.68"/>
<line x1="1044.8" y1="1081.0" x2="1262.5" y2="1201.2" stroke-width="2.10"/>
<line x1="1030.0" y1="1083.0" x2="1255.0" y2="1205.0" stroke-width="1.47"/>
<line x1="1052.0" y1="1090.0" x2="1250.0" y2="1198.0" stroke-width="1.26"/>
<polyline points="1215.5,850.0 1215.5,916.8 1267.4,996.0" stroke-width="1.68"/>
<polyline points="1228.0,850.0 1230.0,907.0 1272.0,996.0" stroke-width="1.47"/>
<polyline points="1226.3,794.0 1219.3,830.0 1215.5,850.0" stroke-width="1.58"/>
<polyline points="1239.0,795.5 1232.0,830.0 1228.0,850.0" stroke-width="2.31"/>
<line x1="1260.0" y1="996.0" x2="1261.0" y2="1100.0" stroke-width="1.68"/>
<line x1="1263.7" y1="1104.8" x2="1263.7" y2="1201.0" stroke-width="1.68"/>
<line x1="1267.4" y1="996.0" x2="1272.0" y2="996.0" stroke-width="1.47"/>
<line x1="1096.8" y1="1000.9" x2="1099.0" y2="1161.6" stroke-width="1.47"/>
<line x1="1203.0" y1="1055.0" x2="1205.6" y2="1169.0" stroke-width="1.47"/>
<line x1="1096.8" y1="1000.9" x2="1108.0" y2="1006.0" stroke-width="1.37"/>
<ellipse cx="1153.7" cy="878.4" rx="4.5" ry="8.0" stroke-width="2.10" transform="rotate(-15 1153.7 878.4)"/>
<ellipse cx="1093.0" cy="889.6" rx="2.5" ry="4.0" stroke-width="1.47" transform="rotate(-15 1093.0 889.6)"/>
<ellipse cx="1199.4" cy="920.5" rx="6.0" ry="9.0" stroke-width="2.10" transform="rotate(-15 1199.4 920.5)"/>
<ellipse cx="1082.0" cy="937.8" rx="6.0" ry="9.0" stroke-width="1.68" transform="rotate(-15 1082.0 937.8)"/>
<ellipse cx="1052.0" cy="952.6" rx="6.5" ry="10.0" stroke-width="2.31" transform="rotate(-15 1052.0 952.6)"/>
<ellipse cx="1150.0" cy="941.5" rx="4.5" ry="7.0" stroke-width="2.10" transform="rotate(-15 1150.0 941.5)"/>
<ellipse cx="1202.0" cy="958.8" rx="3.5" ry="5.0" stroke-width="1.47" transform="rotate(-15 1202.0 958.8)"/>
<ellipse cx="1223.0" cy="973.7" rx="6.0" ry="9.0" stroke-width="1.68" transform="rotate(-15 1223.0 973.7)"/>
<ellipse cx="1098.0" cy="987.3" rx="3.0" ry="5.0" stroke-width="1.47" transform="rotate(-15 1098.0 987.3)"/>
<ellipse cx="1249.0" cy="1004.6" rx="4.0" ry="6.0" stroke-width="2.10" transform="rotate(-15 1249.0 1004.6)"/>
<ellipse cx="1059.7" cy="1017.0" rx="6.5" ry="9.5" stroke-width="1.89" transform="rotate(-15 1059.7 1017.0)"/>
<ellipse cx="1224.0" cy="1022.0" rx="3.0" ry="5.0" stroke-width="1.47" transform="rotate(-15 1224.0 1022.0)"/>
<ellipse cx="1109.0" cy="1043.0" rx="3.5" ry="5.0" stroke-width="1.47" transform="rotate(-15 1109.0 1043.0)"/>
<ellipse cx="1203.0" cy="1046.6" rx="4.0" ry="6.5" stroke-width="1.89" transform="rotate(-15 1203.0 1046.6)"/>
<ellipse cx="1053.5" cy="1065.0" rx="6.0" ry="9.0" stroke-width="1.68" transform="rotate(-15 1053.5 1065.0)"/>
<ellipse cx="1247.7" cy="1064.0" rx="6.0" ry="9.0" stroke-width="1.68" transform="rotate(-15 1247.7 1064.0)"/>
<ellipse cx="1193.0" cy="1090.0" rx="4.0" ry="6.0" stroke-width="1.47" transform="rotate(-15 1193.0 1090.0)"/>
<ellipse cx="1151.0" cy="1098.6" rx="4.0" ry="6.0" stroke-width="1.47" transform="rotate(-15 1151.0 1098.6)"/>
<ellipse cx="1242.7" cy="1119.6" rx="6.0" ry="10.0" stroke-width="1.89" transform="rotate(-15 1242.7 1119.6)"/>
<ellipse cx="1279.8" cy="1112.0" rx="4.5" ry="6.0" stroke-width="1.68" transform="rotate(-15 1279.8 1112.0)"/>
<ellipse cx="1279.8" cy="1160.0" rx="5.0" ry="6.5" stroke-width="1.89" transform="rotate(-15 1279.8 1160.0)"/>
<ellipse cx="1247.7" cy="1174.0" rx="6.0" ry="9.0" stroke-width="2.10" transform="rotate(-15 1247.7 1174.0)"/>
<path d="M1125.0,990.0 C1124.7,993.2 1122.7,1002.9 1123.0,1009.4 C1123.3,1015.9 1124.7,1022.4 1127.0,1028.8 C1129.3,1035.2 1133.2,1042.2 1136.7,1048.0 C1140.2,1053.8 1143.8,1059.8 1148.3,1063.7 C1152.8,1067.6 1158.6,1070.4 1163.8,1071.4 C1169.0,1072.4 1175.4,1071.8 1179.3,1069.5 C1183.2,1067.2 1185.4,1063.0 1187.0,1057.8 C1188.6,1052.6 1189.3,1045.0 1189.0,1038.5 C1188.7,1032.0 1187.2,1025.5 1185.0,1019.0 C1182.8,1012.5 1179.0,1004.5 1175.5,999.7 C1172.0,994.9 1168.0,993.6 1163.8,990.0 C1159.5,986.4 1154.6,980.5 1150.0,978.0 C1145.4,975.5 1140.2,973.0 1136.0,975.0 C1131.8,977.0 1126.8,987.5 1125.0,990.0" stroke-width="2.10"/>
<path d="M1132.0,992.0 C1131.8,995.0 1130.5,1004.0 1131.0,1010.0 C1131.5,1016.0 1133.0,1022.2 1135.0,1028.0 C1137.0,1033.8 1140.0,1040.0 1143.0,1045.0 C1146.0,1050.0 1149.2,1054.7 1153.0,1058.0 C1156.8,1061.3 1161.8,1064.2 1166.0,1065.0 C1170.2,1065.8 1175.0,1065.2 1178.0,1063.0 C1181.0,1060.8 1182.8,1056.7 1184.0,1052.0 C1185.2,1047.3 1185.5,1040.8 1185.0,1035.0 C1184.5,1029.2 1183.2,1022.8 1181.0,1017.0 C1178.8,1011.2 1175.5,1004.5 1172.0,1000.0 C1168.5,995.5 1164.2,992.5 1160.0,990.0 C1155.8,987.5 1151.0,985.7 1147.0,985.0 C1143.0,984.3 1138.5,984.8 1136.0,986.0 C1133.5,987.2 1132.7,991.0 1132.0,992.0" stroke-width="1.37"/>
<path d="M1131.0,969.0 C1128.8,971.7 1121.2,979.8 1118.0,985.0 C1114.8,990.2 1112.3,994.3 1111.5,1000.0 C1110.7,1005.7 1111.8,1011.6 1113.4,1019.0 C1115.0,1026.4 1118.2,1037.1 1121.0,1044.3 C1123.8,1051.5 1128.5,1059.0 1130.0,1062.0" stroke-width="1.68"/>
<path d="M1131.0,969.0 C1133.8,969.5 1142.7,969.8 1148.0,972.0 C1153.3,974.2 1158.5,978.2 1163.0,982.0 C1167.5,985.8 1173.0,992.8 1175.0,995.0" stroke-width="1.68"/>
<line x1="1136.0" y1="995.0" x2="1137.0" y2="1020.0" stroke-width="2.52"/>
<polyline points="1123.0,1048.0 1123.0,1078.0 1135.0,1091.0 1148.0,1088.0 1148.0,1068.0" stroke-width="1.89"/>
<line x1="1124.0" y1="1052.0" x2="1138.0" y2="1055.0" stroke-width="1.47"/>
<line x1="1124.0" y1="1058.0" x2="1138.0" y2="1061.0" stroke-width="1.47"/>
<line x1="1124.0" y1="1064.0" x2="1138.0" y2="1067.0" stroke-width="1.47"/>
<line x1="1124.0" y1="1070.0" x2="1138.0" y2="1073.0" stroke-width="1.47"/>
<line x1="1140.0" y1="1070.0" x2="1142.0" y2="1085.0" stroke-width="2.52"/>
<polyline points="1160.0,1073.0 1160.0,1100.0 1170.0,1106.0 1181.0,1100.0 1181.0,1073.0" stroke-width="1.89"/>
<line x1="1170.0" y1="1085.0" x2="1172.0" y2="1102.0" stroke-width="2.52"/>
<line x1="1172.0" y1="1035.0" x2="1188.0" y2="1032.0" stroke-width="1.26"/>
<line x1="1172.0" y1="1039.0" x2="1188.0" y2="1036.0" stroke-width="1.26"/>
<line x1="1172.0" y1="1043.0" x2="1188.0" y2="1040.0" stroke-width="1.26"/>
<line x1="1172.0" y1="1047.0" x2="1188.0" y2="1044.0" stroke-width="1.26"/>
<line x1="1172.0" y1="1051.0" x2="1188.0" y2="1048.0" stroke-width="1.26"/>
<line x1="1098.0" y1="1000.0" x2="1110.0" y2="1004.0" stroke-width="1.47"/>
<line x1="1110.0" y1="1004.0" x2="1125.0" y2="1005.0" stroke-width="1.47"/>
<line x1="972.0" y1="1097.0" x2="1249.0" y2="1004.5" stroke-width="1.26"/>
<line x1="970.0" y1="1067.5" x2="999.0" y2="1057.8" stroke-width="1.26"/>
<ellipse cx="1134.3" cy="836.7" rx="4.5" ry="7.0" stroke-width="1.68" transform="rotate(-15 1134.3 836.7)"/>
<ellipse cx="1201.0" cy="849.0" rx="4.0" ry="6.5" stroke-width="2.10" transform="rotate(-15 1201.0 849.0)"/>
<ellipse cx="1091.8" cy="791.0" rx="3.0" ry="5.0" stroke-width="1.47" transform="rotate(-15 1091.8 791.0)"/>
<ellipse cx="1102.8" cy="754.8" rx="3.5" ry="6.0" stroke-width="1.47" transform="rotate(-15 1102.8 754.8)"/>
<line x1="1100.0" y1="998.0" x2="1126.0" y2="1003.0" stroke-width="1.37"/>
<path d="M1267.4,996.0 C1269.2,997.5 1274.2,1001.3 1278.0,1005.0 C1281.8,1008.7 1287.0,1013.0 1290.0,1018.0 C1293.0,1023.0 1296.0,1030.5 1296.0,1035.0 C1296.0,1039.5 1292.7,1042.2 1290.0,1045.0 C1287.3,1047.8 1282.5,1049.5 1280.0,1052.0 C1277.5,1054.5 1275.0,1057.0 1275.0,1060.0 C1275.0,1063.0 1277.8,1065.0 1280.0,1070.0 C1282.2,1075.0 1287.7,1084.2 1288.0,1090.0 C1288.3,1095.8 1284.2,1101.7 1282.0,1105.0 C1279.8,1108.3 1276.2,1109.2 1275.0,1110.0" stroke-width="1.68"/>
<ellipse cx="1274.9" cy="1030.6" rx="8.0" ry="11.0" stroke-width="2.10" transform="rotate(-15 1274.9 1030.6)"/>
<ellipse cx="1300.0" cy="1120.0" rx="20.0" ry="18.0" stroke-width="1.68"/>
<line x1="1285.0" y1="1105.0" x2="1315.0" y2="1135.0" stroke-width="1.37"/>
<line x1="1290.0" y1="1130.0" x2="1315.0" y2="1110.0" stroke-width="1.37"/>
<line x1="1300.0" y1="1102.0" x2="1300.0" y2="1138.0" stroke-width="1.37"/>
<line x1="1240.7" y1="924.2" x2="1379.7" y2="872.8" stroke-width="2.10"/>
<line x1="1246.0" y1="935.0" x2="1290.0" y2="921.0" stroke-width="1.37"/>
<line x1="1313.0" y1="911.0" x2="1352.0" y2="897.0" stroke-width="1.37"/>
<line x1="1246.0" y1="938.2" x2="1290.0" y2="924.2" stroke-width="1.37"/>
<line x1="1313.0" y1="914.2" x2="1352.0" y2="900.2" stroke-width="1.37"/>
<line x1="1246.0" y1="941.4" x2="1290.0" y2="927.4" stroke-width="1.37"/>
<line x1="1313.0" y1="917.4" x2="1352.0" y2="903.4" stroke-width="1.37"/>
<line x1="1246.0" y1="944.6" x2="1290.0" y2="930.6" stroke-width="1.37"/>
<line x1="1313.0" y1="920.6" x2="1352.0" y2="906.6" stroke-width="1.37"/>
<polygon points="1285.6,910.0 1295.0,904.0 1312.0,926.0 1303.0,930.0" stroke-width="1.68"/>
<line x1="1300.0" y1="906.0" x2="1310.0" y2="924.0" stroke-width="3.15"/>
<polygon points="1344.4,888.0 1352.0,882.0 1370.0,903.0 1362.0,907.0" stroke-width="1.68"/>
<line x1="1358.0" y1="884.0" x2="1368.0" y2="902.0" stroke-width="3.15"/>
<line x1="1370.0" y1="893.0" x2="1380.0" y2="889.0" stroke-width="1.37"/>
<line x1="1370.0" y1="896.5" x2="1380.0" y2="892.5" stroke-width="1.37"/>
<line x1="1370.0" y1="900.0" x2="1380.0" y2="896.0" stroke-width="1.37"/>
<line x1="1370.0" y1="903.5" x2="1380.0" y2="899.5" stroke-width="1.37"/>
<line x1="1262.1" y1="977.6" x2="1379.7" y2="932.7" stroke-width="1.89"/>
<line x1="1264.2" y1="984.0" x2="1364.8" y2="945.6" stroke-width="1.68"/>
<polyline points="1365.0,945.0 1372.0,938.0 1380.0,937.0" stroke-width="1.37"/>
<line x1="1230.0" y1="900.6" x2="1270.6" y2="995.8" stroke-width="1.68"/>
<line x1="1230.0" y1="941.3" x2="1256.7" y2="996.9" stroke-width="1.47"/>
<line x1="1324.1" y1="1020.0" x2="1369.0" y2="956.3" stroke-width="1.68"/>
<line x1="1369.0" y1="956.3" x2="1379.7" y2="934.9" stroke-width="1.68"/>
<line x1="1331.0" y1="1020.0" x2="1380.0" y2="950.0" stroke-width="1.68"/>
<line x1="1338.0" y1="1022.0" x2="1380.0" y2="962.0" stroke-width="1.68"/>
<line x1="1343.0" y1="1022.0" x2="1380.0" y2="968.0" stroke-width="2.31"/>
<line x1="1277.0" y1="1095.0" x2="1324.0" y2="1020.0" stroke-width="1.68"/>
<line x1="1284.0" y1="1098.0" x2="1331.0" y2="1022.0" stroke-width="1.68"/>
<line x1="1292.0" y1="1100.0" x2="1338.0" y2="1024.0" stroke-width="1.68"/>
<line x1="1302.0" y1="1035.5" x2="1378.7" y2="1008.0" stroke-width="1.58"/>
<line x1="1314.0" y1="1055.0" x2="1378.7" y2="1033.0" stroke-width="1.58"/>
<line x1="1290.0" y1="1105.0" x2="1378.7" y2="1075.0" stroke-width="1.47"/>
<line x1="1300.0" y1="1150.0" x2="1378.7" y2="1135.0" stroke-width="1.47"/>
<ellipse cx="1360.0" cy="1115.0" rx="12.0" ry="14.0" stroke-width="1.68"/>
<ellipse cx="1362.0" cy="1113.0" rx="8.0" ry="10.0" stroke-width="1.37"/>
<polyline points="1340.0,1135.0 1380.0,1125.0" stroke-width="1.47"/>
<polyline points="1340.0,1145.0 1380.0,1135.0" stroke-width="1.47"/>
<path d="M1093.0,1114.4 C1093.0,1121.2 1091.4,1144.6 1093.0,1155.4 C1094.6,1166.2 1098.1,1173.3 1102.6,1179.4 C1107.1,1185.5 1114.4,1188.0 1120.0,1192.0 C1125.6,1196.0 1132.0,1198.8 1136.3,1203.5 C1140.6,1208.2 1141.2,1216.4 1146.0,1220.0 C1150.8,1223.6 1151.8,1220.5 1165.0,1225.0 C1178.2,1229.5 1214.8,1240.8 1225.3,1246.8 C1235.8,1252.8 1224.5,1257.4 1227.7,1261.0 C1230.9,1264.6 1238.2,1265.2 1244.6,1268.5 C1251.0,1271.8 1260.8,1277.8 1266.0,1280.5 C1271.2,1283.2 1268.8,1285.8 1276.0,1285.0 C1283.2,1284.2 1303.5,1278.9 1309.5,1275.7 C1315.5,1272.5 1311.6,1267.6 1312.0,1266.0" stroke-width="1.68"/>
<line x1="1096.0" y1="1113.0" x2="1103.0" y2="1160.0" stroke-width="1.47"/>
<line x1="1133.0" y1="1140.0" x2="1133.0" y2="1200.0" stroke-width="1.47"/>
<line x1="1137.0" y1="1140.0" x2="1137.0" y2="1202.0" stroke-width="1.47"/>
<path d="M1097.0,1160.0 C1098.3,1161.7 1099.5,1164.7 1105.0,1170.0 C1110.5,1175.3 1125.8,1188.3 1130.0,1192.0" stroke-width="1.47"/>
<path d="M1146.0,1205.0 C1146.7,1206.7 1147.7,1212.2 1150.0,1215.0 C1152.3,1217.8 1158.3,1220.8 1160.0,1222.0" stroke-width="1.47"/>
<line x1="1150.0" y1="1205.0" x2="1224.0" y2="1245.0" stroke-width="1.47"/>
<path d="M1240.0,1258.0 C1241.3,1259.2 1245.0,1263.0 1248.0,1265.0 C1251.0,1267.0 1256.3,1269.2 1258.0,1270.0" stroke-width="1.47"/>
<line x1="1263.8" y1="1206.0" x2="1263.8" y2="1280.5" stroke-width="1.47"/>
<line x1="1288.0" y1="1198.7" x2="1288.0" y2="1278.0" stroke-width="1.47"/>
<line x1="1266.0" y1="1206.0" x2="1336.0" y2="1188.0" stroke-width="1.47"/>
<line x1="1312.0" y1="1190.0" x2="1312.0" y2="1266.0" stroke-width="1.37"/>
<line x1="1336.0" y1="1179.4" x2="1379.0" y2="1169.0" stroke-width="1.47"/>
<line x1="1312.0" y1="1195.0" x2="1379.0" y2="1176.0" stroke-width="1.47"/>
<line x1="1333.0" y1="1180.0" x2="1333.0" y2="1262.0" stroke-width="1.47"/>
<line x1="1336.0" y1="1262.0" x2="1312.0" y2="1266.0" stroke-width="1.37"/>
<line x1="1336.0" y1="1181.0" x2="1336.0" y2="1262.0" stroke-width="3.36"/>
<line x1="1339.0" y1="1181.0" x2="1339.0" y2="1262.0" stroke-width="1.47"/>
<line x1="1367.0" y1="1172.0" x2="1367.0" y2="1255.0" stroke-width="1.47"/>
<line x1="1336.0" y1="1262.0" x2="1367.0" y2="1255.0" stroke-width="1.47"/>
<line x1="1367.0" y1="1255.0" x2="1379.0" y2="1250.0" stroke-width="1.37"/>
<line x1="1345.0" y1="1210.0" x2="1379.0" y2="1200.0" stroke-width="1.37"/>
<line x1="1345.0" y1="1230.0" x2="1379.0" y2="1222.0" stroke-width="1.37"/>
<polyline points="1300.0,1172.0 1306.0,1164.0 1330.0,1160.0 1336.0,1170.0" stroke-width="1.68"/>
<line x1="1302.0" y1="1180.0" x2="1336.0" y2="1168.0" stroke-width="2.10"/>
<polyline points="1252.0,1201.0 1266.0,1206.0" stroke-width="1.47"/>
<polyline points="1275.0,1178.0 1300.0,1172.0" stroke-width="1.37"/>
<polyline points="1266.0,1180.0 1266.0,1195.0 1276.0,1196.0" stroke-width="1.37"/>
<ellipse cx="1061.0" cy="837.0" rx="14.5" ry="22.5" fill="#fff" stroke-width="2.31" transform="rotate(-10 1061.0 837.0)"/>
<ellipse cx="1057.0" cy="839.0" rx="14.5" ry="22.5" fill="#fff" stroke-width="1.89" transform="rotate(-10 1057.0 839.0)"/>
<ellipse cx="1057.5" cy="840.0" rx="4.0" ry="6.5" stroke-width="1.68" transform="rotate(-10 1057.5 840.0)"/>
<line x1="1062.0" y1="815.0" x2="1071.0" y2="814.0" stroke-width="1.47"/>
<polygon points="1088,813 1096,809 1105,811 1109.4,820 1108,833 1099,838.5 1090,836 1086,826" fill="#fff" stroke-width="2.0"/>
<ellipse cx="1096.0" cy="824.0" rx="7.0" ry="10.0" stroke-width="1.68" transform="rotate(-10 1096.0 824.0)"/>
<ellipse cx="1095.0" cy="825.0" rx="3.5" ry="5.5" stroke-width="1.68" transform="rotate(-10 1095.0 825.0)"/>
<line x1="1086.0" y1="826.0" x2="1101.0" y2="822.0" stroke-width="1.26"/>
</g>
</svg>
</body></html>
